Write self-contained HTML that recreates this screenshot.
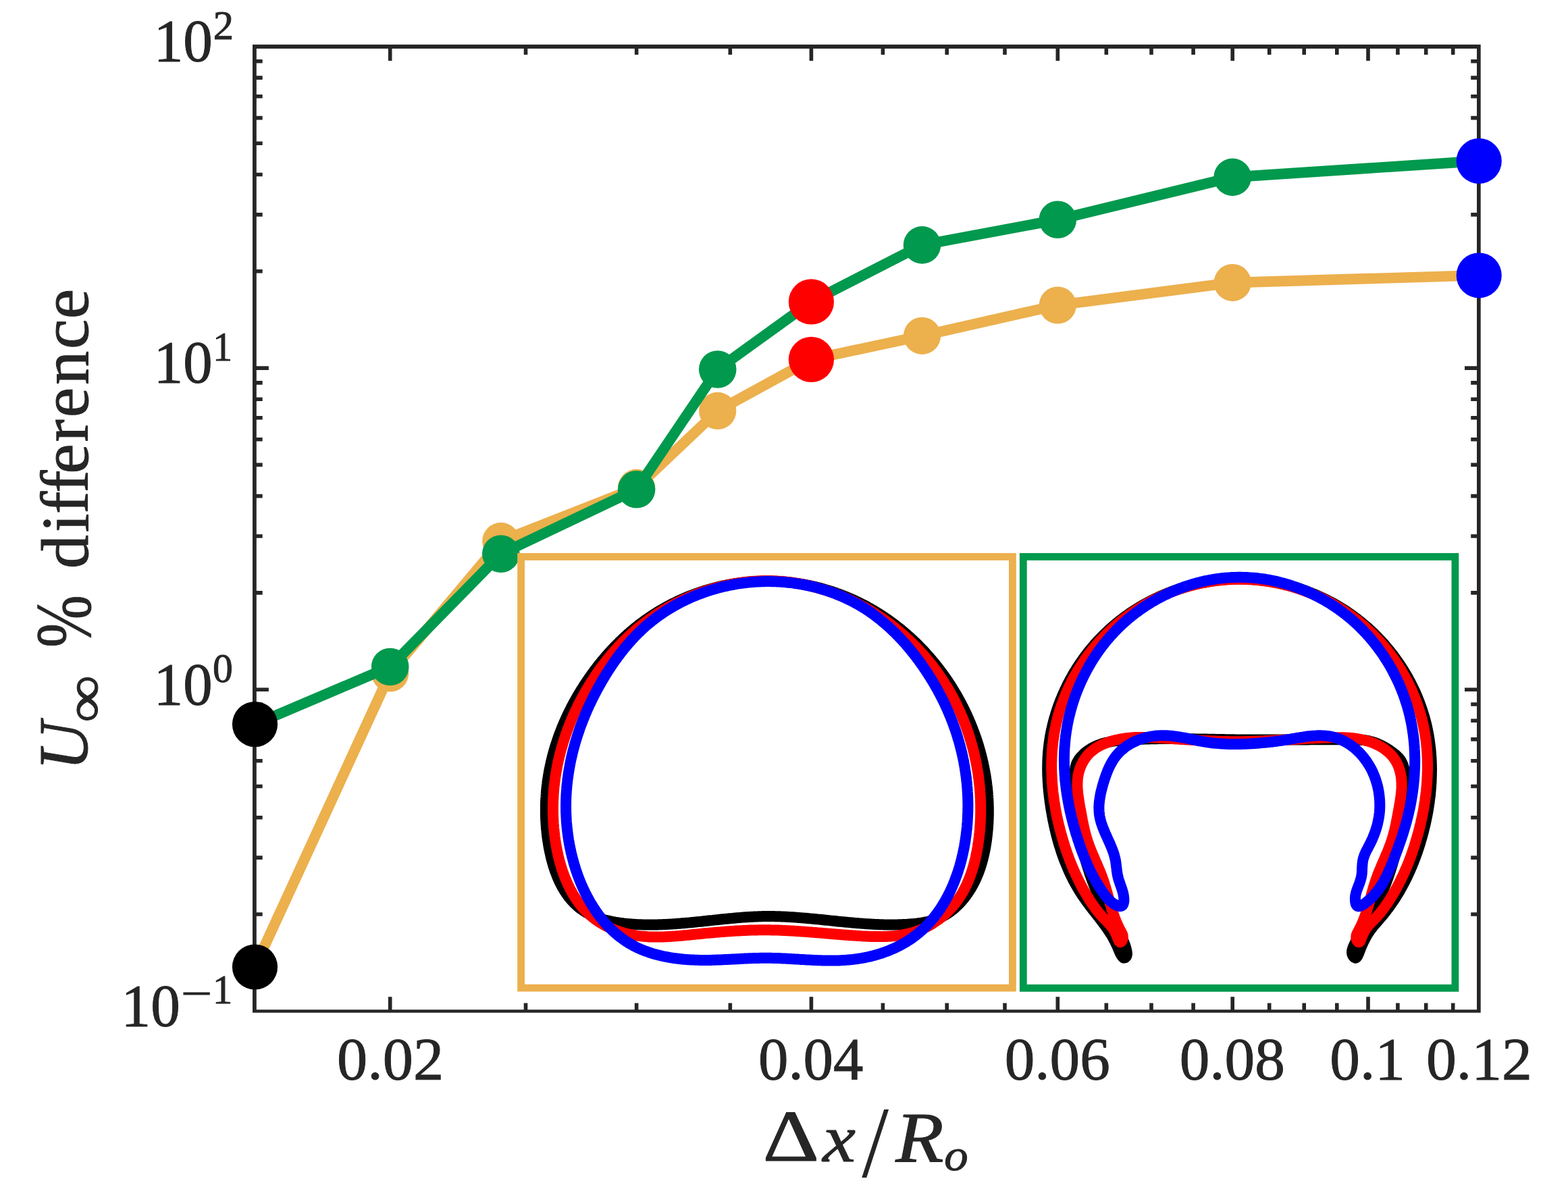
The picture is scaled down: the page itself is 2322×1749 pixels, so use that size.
<!DOCTYPE html><html><head><meta charset="utf-8"><title>U inf percent difference vs dx/Ro</title>
<style>html,body{margin:0;padding:0;background:#fff;}svg{display:block;}text{font-family:"Liberation Serif","DejaVu Serif",serif;fill:#262626;stroke:#262626;stroke-width:1px;}</style></head><body>
<svg width="2322" height="1749" viewBox="0 0 2322 1749">
<rect width="2322" height="1749" fill="#fff"/>
<path d="M577.7 1497.3V1476.3M577.7 69.1V90.1M1201.4 1497.3V1476.3M1201.4 69.1V90.1M1566.3 1497.3V1476.3M1566.3 69.1V90.1M1825.2 1497.3V1476.3M1825.2 69.1V90.1M2026 1497.3V1476.3M2026 69.1V90.1M778.5 1497.3V1485.5M778.5 69.1V80.9M942.6 1497.3V1485.5M942.6 69.1V80.9M1081.3 1497.3V1485.5M1081.3 69.1V80.9M1307.4 1497.3V1485.5M1307.4 69.1V80.9M1402.2 1497.3V1485.5M1402.2 69.1V80.9M1488 1497.3V1485.5M1488 69.1V80.9M1638.3 1497.3V1485.5M1638.3 69.1V80.9M1705 1497.3V1485.5M1705 69.1V80.9M1767.1 1497.3V1485.5M1767.1 69.1V80.9M1879.7 1497.3V1485.5M1879.7 69.1V80.9M1931.2 1497.3V1485.5M1931.2 69.1V80.9M1979.8 1497.3V1485.5M1979.8 69.1V80.9M2069.9 1497.3V1485.5M2069.9 69.1V80.9M2111.7 1497.3V1485.5M2111.7 69.1V80.9M2151.7 1497.3V1485.5M2151.7 69.1V80.9M376.9 1354H388.7M2190 1354H2178.2M376.9 1270.1H388.7M2190 1270.1H2178.2M376.9 1210.7H388.7M2190 1210.7H2178.2M376.9 1164.5H388.7M2190 1164.5H2178.2M376.9 1126.8H388.7M2190 1126.8H2178.2M376.9 1094.9H388.7M2190 1094.9H2178.2M376.9 1067.3H388.7M2190 1067.3H2178.2M376.9 1043H388.7M2190 1043H2178.2M376.9 1021.2H397.9M2190 1021.2H2169M376.9 877.9H388.7M2190 877.9H2178.2M376.9 794H388.7M2190 794H2178.2M376.9 734.6H388.7M2190 734.6H2178.2M376.9 688.4H388.7M2190 688.4H2178.2M376.9 650.7H388.7M2190 650.7H2178.2M376.9 618.8H388.7M2190 618.8H2178.2M376.9 591.2H388.7M2190 591.2H2178.2M376.9 566.9H388.7M2190 566.9H2178.2M376.9 545.1H397.9M2190 545.1H2169M376.9 401.8H388.7M2190 401.8H2178.2M376.9 317.9H388.7M2190 317.9H2178.2M376.9 258.5H388.7M2190 258.5H2178.2M376.9 212.3H388.7M2190 212.3H2178.2M376.9 174.6H388.7M2190 174.6H2178.2M376.9 142.7H388.7M2190 142.7H2178.2M376.9 115.1H388.7M2190 115.1H2178.2M376.9 90.8H388.7M2190 90.8H2178.2" stroke="#262626" stroke-width="5.6" fill="none"/>
<path d="M374 66.1H2192.7V71.9H374Z M374 1495.2H2192.7V1499.8H374Z M374 66.1H379.8V1499.8H374Z M2187 66.1H2192.7V1499.8H2187Z" fill="#262626"/>
<path d="M377.5 1432 L577.7 997 L741.8 801.4 L942.6 722.4 L1062.7 608.4 L1201.4 532.4 L1365.5 497.3 L1566.3 452 L1825.2 418.6 L2190 407.8" stroke="#ecb04d" stroke-width="15.6" fill="none" stroke-linejoin="round"/>
<circle cx="577.7" cy="997" r="27.6" fill="#ecb04d"/>
<circle cx="741.8" cy="801.4" r="27.6" fill="#ecb04d"/>
<circle cx="942.6" cy="722.4" r="27.6" fill="#ecb04d"/>
<circle cx="1062.7" cy="608.4" r="27.6" fill="#ecb04d"/>
<circle cx="1365.5" cy="497.3" r="27.6" fill="#ecb04d"/>
<circle cx="1566.3" cy="452" r="27.6" fill="#ecb04d"/>
<circle cx="1825.2" cy="418.6" r="27.6" fill="#ecb04d"/>
<path d="M377.5 1072.6 L577.7 987.5 L741.8 820.2 L942.6 724.8 L1062.7 547 L1201.4 446.9 L1365.5 362.9 L1566.3 325.3 L1825.2 262.4 L2190 238.4" stroke="#00994d" stroke-width="15.6" fill="none" stroke-linejoin="round"/>
<circle cx="577.7" cy="987.5" r="27.8" fill="#00994d"/>
<circle cx="741.8" cy="820.2" r="27.8" fill="#00994d"/>
<circle cx="942.6" cy="724.8" r="27.8" fill="#00994d"/>
<circle cx="1062.7" cy="547" r="27.8" fill="#00994d"/>
<circle cx="1365.5" cy="362.9" r="27.8" fill="#00994d"/>
<circle cx="1566.3" cy="325.3" r="27.8" fill="#00994d"/>
<circle cx="1825.2" cy="262.4" r="27.8" fill="#00994d"/>
<circle cx="377.5" cy="1072.6" r="33.6" fill="#000"/>
<circle cx="1201.4" cy="446.9" r="33.6" fill="#f00"/>
<circle cx="2190.2" cy="238.4" r="33.6" fill="#00f"/>
<circle cx="377.5" cy="1432" r="33.6" fill="#000"/>
<circle cx="1201.4" cy="532.4" r="33.6" fill="#f00"/>
<circle cx="2190.2" cy="407.8" r="33.6" fill="#00f"/>
<rect x="771.6" y="824.5" width="727.8" height="638.6" fill="#fff" stroke="#ecb04d" stroke-width="10.8"/>
<rect x="1515.3" y="824.5" width="639.6" height="638.8" fill="#fff" stroke="#00994d" stroke-width="10.8"/>
<path d="M1136.0 860.5 L1133.9 860.5 L1131.7 860.5 L1129.6 860.6 L1127.5 860.6 L1125.3 860.7 L1123.2 860.8 L1121.0 860.9 L1118.9 861.0 L1116.8 861.1 L1114.6 861.2 L1112.5 861.4 L1110.4 861.6 L1108.2 861.7 L1106.1 862.0 L1104.0 862.2 L1101.8 862.4 L1099.7 862.6 L1097.6 862.9 L1095.5 863.2 L1093.3 863.5 L1091.2 863.8 L1089.1 864.1 L1087.0 864.4 L1084.9 864.8 L1082.8 865.2 L1080.7 865.5 L1078.5 865.9 L1076.4 866.3 L1074.3 866.8 L1072.2 867.2 L1070.1 867.6 L1068.1 868.1 L1066.0 868.6 L1063.9 869.1 L1061.8 869.6 L1059.7 870.1 L1057.6 870.7 L1055.6 871.2 L1053.5 871.8 L1051.4 872.4 L1049.4 872.9 L1047.3 873.6 L1045.3 874.2 L1043.2 874.8 L1041.2 875.5 L1039.1 876.1 L1037.1 876.8 L1035.1 877.5 L1033.1 878.2 L1031.0 878.9 L1029.0 879.7 L1027.0 880.4 L1025.0 881.2 L1023.0 881.9 L1021.0 882.7 L1019.0 883.5 L1017.0 884.3 L1015.1 885.2 L1013.1 886.0 L1011.1 886.9 L1009.2 887.7 L1007.2 888.6 L1005.3 889.5 L1003.3 890.4 L1001.4 891.3 L999.5 892.3 L997.5 893.2 L995.6 894.2 L993.7 895.1 L991.8 896.1 L989.9 897.1 L988.0 898.1 L986.1 899.2 L984.3 900.2 L982.4 901.3 L980.5 902.3 L978.7 903.4 L976.8 904.5 L975.0 905.6 L973.2 906.7 L971.4 907.8 L969.5 909.0 L967.7 910.1 L965.9 911.3 L964.1 912.5 L962.4 913.7 L960.6 914.9 L958.8 916.1 L957.1 917.3 L955.3 918.6 L953.6 919.8 L951.9 921.1 L950.1 922.3 L948.4 923.6 L946.7 924.9 L945.0 926.2 L943.4 927.6 L941.7 928.9 L940.0 930.3 L938.4 931.6 L936.7 933.0 L935.1 934.4 L933.4 935.8 L931.8 937.2 L930.2 938.6 L928.6 940.0 L927.0 941.4 L925.4 942.9 L923.9 944.3 L922.3 945.8 L920.7 947.3 L919.2 948.8 L917.6 950.2 L916.1 951.8 L914.6 953.3 L913.1 954.8 L911.6 956.3 L910.1 957.9 L908.6 959.4 L907.1 961.0 L905.7 962.5 L904.2 964.1 L902.8 965.7 L901.3 967.3 L899.9 968.9 L898.5 970.5 L897.1 972.1 L895.7 973.8 L894.3 975.4 L892.9 977.0 L891.5 978.7 L890.2 980.4 L888.8 982.0 L887.5 983.7 L886.1 985.4 L884.8 987.1 L883.5 988.8 L882.2 990.5 L880.9 992.2 L879.6 993.9 L878.4 995.6 L877.1 997.4 L875.8 999.1 L874.6 1000.8 L873.3 1002.6 L872.1 1004.3 L870.9 1006.1 L869.7 1007.9 L868.5 1009.6 L867.3 1011.4 L866.1 1013.2 L865.0 1015.0 L863.8 1016.8 L862.7 1018.6 L861.5 1020.4 L860.4 1022.2 L859.3 1024.0 L858.2 1025.8 L857.1 1027.7 L856.0 1029.5 L854.9 1031.3 L853.9 1033.2 L852.8 1035.0 L851.8 1036.9 L850.7 1038.8 L849.7 1040.6 L848.7 1042.5 L847.7 1044.4 L846.7 1046.2 L845.7 1048.1 L844.8 1050.0 L843.8 1051.9 L842.9 1053.8 L841.9 1055.7 L841.0 1057.6 L840.1 1059.5 L839.2 1061.5 L838.3 1063.4 L837.5 1065.3 L836.6 1067.3 L835.7 1069.2 L834.9 1071.1 L834.1 1073.1 L833.2 1075.0 L832.4 1077.0 L831.6 1079.0 L830.9 1080.9 L830.1 1082.9 L829.3 1084.9 L828.6 1086.8 L827.9 1088.8 L827.1 1090.8 L826.4 1092.8 L825.7 1094.8 L825.0 1096.8 L824.4 1098.8 L823.7 1100.8 L823.1 1102.8 L822.4 1104.9 L821.8 1106.9 L821.2 1108.9 L820.6 1110.9 L820.0 1113.0 L819.4 1115.0 L818.9 1117.0 L818.3 1119.1 L817.8 1121.1 L817.3 1123.2 L816.8 1125.3 L816.3 1127.3 L815.8 1129.4 L815.4 1131.4 L814.9 1133.5 L814.5 1135.6 L814.0 1137.7 L813.6 1139.8 L813.2 1141.8 L812.8 1143.9 L812.5 1146.0 L812.1 1148.1 L811.8 1150.2 L811.5 1152.3 L811.1 1154.4 L810.8 1156.5 L810.5 1158.6 L810.3 1160.8 L810.0 1162.9 L809.8 1165.0 L809.5 1167.1 L809.3 1169.3 L809.1 1171.4 L808.9 1173.5 L808.8 1175.7 L808.6 1177.8 L808.5 1179.9 L808.3 1182.1 L808.2 1184.2 L808.1 1186.4 L808.0 1188.5 L808.0 1190.7 L807.9 1192.9 L807.9 1195.0 L807.9 1197.2 L807.9 1199.4 L807.9 1201.5 L807.9 1203.7 L807.9 1205.9 L808.0 1208.1 L808.0 1210.2 L808.1 1212.4 L808.2 1214.6 L808.3 1216.8 L808.5 1219.0 L808.6 1221.2 L808.8 1223.4 L808.9 1225.6 L809.1 1227.8 L809.4 1230.0 L809.6 1232.2 L809.8 1234.4 L810.1 1236.6 L810.3 1238.8 L810.6 1241.0 L810.9 1243.2 L811.3 1245.4 L811.6 1247.7 L812.0 1249.9 L812.3 1252.1 L812.7 1254.3 L813.1 1256.5 L813.6 1258.7 L814.0 1260.9 L814.5 1263.1 L815.0 1265.3 L815.5 1267.5 L816.0 1269.6 L816.5 1271.8 L817.1 1274.0 L817.7 1276.1 L818.3 1278.3 L818.9 1280.4 L819.5 1282.5 L820.2 1284.6 L820.9 1286.7 L821.6 1288.8 L822.3 1290.9 L823.1 1292.9 L823.9 1295.0 L824.7 1297.0 L825.5 1299.0 L826.3 1301.0 L827.2 1302.9 L828.1 1304.9 L829.0 1306.8 L830.0 1308.7 L830.9 1310.6 L831.9 1312.5 L832.9 1314.3 L834.0 1316.1 L835.0 1317.9 L836.1 1319.7 L837.3 1321.4 L838.4 1323.1 L839.6 1324.8 L840.8 1326.5 L842.0 1328.1 L843.3 1329.7 L844.5 1331.3 L845.8 1332.8 L847.2 1334.3 L848.6 1335.8 L850.0 1337.3 L851.4 1338.7 L852.8 1340.0 L854.3 1341.4 L855.8 1342.7 L857.4 1344.0 L858.9 1345.2 L860.6 1346.4 L862.2 1347.5 L863.9 1348.6 L865.5 1349.7 L867.3 1350.8 L869.0 1351.8 L870.8 1352.7 L872.6 1353.7 L874.4 1354.6 L876.3 1355.4 L878.2 1356.3 L880.1 1357.1 L882.0 1357.8 L883.9 1358.6 L885.9 1359.3 L887.9 1359.9 L889.9 1360.6 L891.9 1361.2 L893.9 1361.8 L896.0 1362.4 L898.0 1362.9 L900.1 1363.4 L902.2 1363.9 L904.3 1364.3 L906.4 1364.8 L908.6 1365.2 L910.7 1365.6 L912.8 1365.9 L915.0 1366.3 L917.2 1366.6 L919.3 1366.9 L921.5 1367.2 L923.7 1367.5 L925.9 1367.7 L928.1 1367.9 L930.2 1368.1 L932.4 1368.3 L934.6 1368.5 L936.8 1368.7 L939.0 1368.8 L941.2 1368.9 L943.4 1369.1 L945.6 1369.2 L947.8 1369.2 L949.9 1369.3 L952.1 1369.4 L954.3 1369.4 L956.5 1369.5 L958.7 1369.5 L960.8 1369.5 L963.0 1369.5 L965.2 1369.5 L967.3 1369.5 L969.5 1369.5 L971.7 1369.4 L973.8 1369.4 L976.0 1369.3 L978.2 1369.3 L980.3 1369.2 L982.5 1369.1 L984.6 1369.0 L986.8 1368.9 L988.9 1368.8 L991.1 1368.7 L993.2 1368.6 L995.4 1368.4 L997.5 1368.3 L999.7 1368.2 L1001.8 1368.0 L1004.0 1367.8 L1006.1 1367.7 L1008.3 1367.5 L1010.4 1367.3 L1012.5 1367.2 L1014.7 1367.0 L1016.8 1366.8 L1018.9 1366.6 L1021.1 1366.4 L1023.2 1366.2 L1025.4 1366.0 L1027.5 1365.8 L1029.6 1365.6 L1031.8 1365.3 L1033.9 1365.1 L1036.0 1364.9 L1038.1 1364.7 L1040.3 1364.5 L1042.4 1364.2 L1044.5 1364.0 L1046.7 1363.8 L1048.8 1363.5 L1050.9 1363.3 L1053.0 1363.1 L1055.2 1362.9 L1057.3 1362.6 L1059.4 1362.4 L1061.5 1362.2 L1063.7 1362.0 L1065.8 1361.7 L1067.9 1361.5 L1070.0 1361.3 L1072.1 1361.1 L1074.3 1360.9 L1076.4 1360.7 L1078.5 1360.5 L1080.6 1360.3 L1082.8 1360.1 L1084.9 1359.9 L1087.0 1359.7 L1089.1 1359.5 L1091.2 1359.3 L1093.4 1359.1 L1095.5 1358.9 L1097.6 1358.8 L1099.7 1358.6 L1101.8 1358.5 L1104.0 1358.3 L1106.1 1358.2 L1108.2 1358.0 L1110.3 1357.9 L1112.4 1357.8 L1114.6 1357.7 L1116.7 1357.6 L1118.8 1357.5 L1120.9 1357.4 L1123.1 1357.3 L1125.2 1357.3 L1127.3 1357.2 L1129.4 1357.1 L1131.6 1357.1 L1133.7 1357.1 L1135.8 1357.1 L1137.9 1357.1 L1140.1 1357.1 L1142.2 1357.1 L1144.3 1357.1 L1146.5 1357.1 L1148.6 1357.2 L1150.7 1357.2 L1152.9 1357.3 L1155.0 1357.3 L1157.1 1357.4 L1159.2 1357.5 L1161.4 1357.6 L1163.5 1357.7 L1165.7 1357.8 L1167.8 1357.9 L1169.9 1358.1 L1172.1 1358.2 L1174.2 1358.3 L1176.3 1358.5 L1178.5 1358.6 L1180.6 1358.8 L1182.7 1358.9 L1184.9 1359.1 L1187.0 1359.3 L1189.2 1359.4 L1191.3 1359.6 L1193.4 1359.8 L1195.6 1360.0 L1197.7 1360.2 L1199.9 1360.4 L1202.0 1360.6 L1204.1 1360.8 L1206.3 1361.0 L1208.4 1361.2 L1210.6 1361.4 L1212.7 1361.6 L1214.9 1361.8 L1217.0 1362.0 L1219.1 1362.3 L1221.3 1362.5 L1223.4 1362.7 L1225.6 1362.9 L1227.7 1363.1 L1229.9 1363.4 L1232.0 1363.6 L1234.2 1363.8 L1236.3 1364.0 L1238.4 1364.2 L1240.6 1364.5 L1242.7 1364.7 L1244.9 1364.9 L1247.0 1365.1 L1249.2 1365.3 L1251.3 1365.5 L1253.5 1365.7 L1255.6 1365.9 L1257.8 1366.1 L1259.9 1366.3 L1262.0 1366.5 L1264.2 1366.7 L1266.3 1366.9 L1268.5 1367.1 L1270.6 1367.2 L1272.8 1367.4 L1274.9 1367.6 L1277.1 1367.7 L1279.2 1367.9 L1281.4 1368.1 L1283.5 1368.2 L1285.7 1368.3 L1287.8 1368.5 L1289.9 1368.6 L1292.1 1368.7 L1294.2 1368.8 L1296.4 1368.9 L1298.5 1369.0 L1300.7 1369.1 L1302.8 1369.2 L1305.0 1369.2 L1307.1 1369.3 L1309.3 1369.4 L1311.4 1369.4 L1313.6 1369.4 L1315.7 1369.5 L1317.8 1369.5 L1320.0 1369.5 L1322.1 1369.5 L1324.3 1369.5 L1326.4 1369.4 L1328.6 1369.4 L1330.7 1369.3 L1332.8 1369.3 L1335.0 1369.2 L1337.1 1369.1 L1339.3 1369.0 L1341.4 1368.9 L1343.6 1368.8 L1345.7 1368.6 L1347.8 1368.5 L1350.0 1368.3 L1352.1 1368.1 L1354.3 1367.9 L1356.4 1367.7 L1358.5 1367.5 L1360.6 1367.2 L1362.7 1366.9 L1364.8 1366.6 L1366.9 1366.2 L1369.0 1365.9 L1371.1 1365.4 L1373.2 1365.0 L1375.2 1364.5 L1377.3 1364.0 L1379.3 1363.5 L1381.3 1362.9 L1383.3 1362.3 L1385.3 1361.6 L1387.3 1360.9 L1389.2 1360.1 L1391.2 1359.3 L1393.1 1358.5 L1395.0 1357.6 L1396.9 1356.6 L1398.7 1355.6 L1400.6 1354.6 L1402.4 1353.4 L1404.2 1352.3 L1406.0 1351.1 L1407.7 1349.8 L1409.4 1348.5 L1411.1 1347.2 L1412.8 1345.8 L1414.4 1344.3 L1416.0 1342.9 L1417.6 1341.4 L1419.2 1339.8 L1420.7 1338.3 L1422.2 1336.7 L1423.7 1335.1 L1425.1 1333.4 L1426.5 1331.8 L1427.9 1330.1 L1429.2 1328.4 L1430.5 1326.7 L1431.8 1324.9 L1433.0 1323.2 L1434.2 1321.4 L1435.4 1319.6 L1436.5 1317.8 L1437.7 1316.0 L1438.7 1314.2 L1439.8 1312.3 L1440.8 1310.4 L1441.8 1308.6 L1442.8 1306.7 L1443.7 1304.7 L1444.7 1302.8 L1445.5 1300.9 L1446.4 1298.9 L1447.2 1297.0 L1448.1 1295.0 L1448.8 1293.0 L1449.6 1291.0 L1450.3 1289.0 L1451.0 1287.0 L1451.7 1285.0 L1452.4 1282.9 L1453.0 1280.9 L1453.7 1278.8 L1454.3 1276.8 L1454.8 1274.7 L1455.4 1272.6 L1455.9 1270.5 L1456.4 1268.5 L1456.9 1266.4 L1457.4 1264.3 L1457.8 1262.2 L1458.3 1260.0 L1458.7 1257.9 L1459.1 1255.8 L1459.5 1253.7 L1459.8 1251.5 L1460.2 1249.4 L1460.5 1247.3 L1460.8 1245.1 L1461.1 1243.0 L1461.4 1240.9 L1461.6 1238.7 L1461.9 1236.6 L1462.1 1234.5 L1462.3 1232.3 L1462.5 1230.2 L1462.7 1228.0 L1462.9 1225.9 L1463.0 1223.7 L1463.2 1221.6 L1463.3 1219.5 L1463.4 1217.3 L1463.5 1215.2 L1463.6 1213.0 L1463.7 1210.9 L1463.7 1208.7 L1463.8 1206.6 L1463.8 1204.4 L1463.8 1202.3 L1463.8 1200.2 L1463.8 1198.0 L1463.8 1195.9 L1463.7 1193.7 L1463.6 1191.6 L1463.6 1189.5 L1463.5 1187.3 L1463.4 1185.2 L1463.3 1183.1 L1463.1 1180.9 L1463.0 1178.8 L1462.8 1176.7 L1462.7 1174.5 L1462.5 1172.4 L1462.3 1170.3 L1462.1 1168.1 L1461.8 1166.0 L1461.6 1163.9 L1461.3 1161.8 L1461.1 1159.6 L1460.8 1157.5 L1460.5 1155.4 L1460.2 1153.3 L1459.9 1151.2 L1459.5 1149.1 L1459.2 1147.0 L1458.8 1144.9 L1458.4 1142.8 L1458.0 1140.7 L1457.6 1138.6 L1457.2 1136.5 L1456.8 1134.4 L1456.3 1132.3 L1455.9 1130.2 L1455.4 1128.1 L1454.9 1126.0 L1454.4 1123.9 L1453.9 1121.9 L1453.4 1119.8 L1452.9 1117.7 L1452.3 1115.7 L1451.8 1113.6 L1451.2 1111.5 L1450.6 1109.5 L1450.0 1107.4 L1449.4 1105.4 L1448.8 1103.3 L1448.2 1101.3 L1447.5 1099.2 L1446.9 1097.2 L1446.2 1095.2 L1445.5 1093.1 L1444.8 1091.1 L1444.1 1089.1 L1443.4 1087.1 L1442.6 1085.1 L1441.9 1083.1 L1441.1 1081.1 L1440.4 1079.1 L1439.6 1077.1 L1438.8 1075.1 L1438.0 1073.1 L1437.2 1071.1 L1436.4 1069.2 L1435.5 1067.2 L1434.7 1065.2 L1433.8 1063.3 L1432.9 1061.3 L1432.0 1059.4 L1431.1 1057.4 L1430.2 1055.5 L1429.3 1053.6 L1428.4 1051.6 L1427.4 1049.7 L1426.5 1047.8 L1425.5 1045.9 L1424.5 1044.0 L1423.5 1042.1 L1422.5 1040.2 L1421.5 1038.3 L1420.5 1036.4 L1419.4 1034.5 L1418.4 1032.7 L1417.3 1030.8 L1416.3 1029.0 L1415.2 1027.1 L1414.1 1025.3 L1413.0 1023.4 L1411.9 1021.6 L1410.8 1019.8 L1409.6 1018.0 L1408.5 1016.1 L1407.3 1014.3 L1406.2 1012.5 L1405.0 1010.8 L1403.8 1009.0 L1402.6 1007.2 L1401.4 1005.4 L1400.2 1003.7 L1398.9 1001.9 L1397.7 1000.2 L1396.4 998.4 L1395.2 996.7 L1393.9 995.0 L1392.6 993.3 L1391.3 991.5 L1390.0 989.8 L1388.7 988.1 L1387.4 986.5 L1386.1 984.8 L1384.7 983.1 L1383.4 981.5 L1382.0 979.8 L1380.6 978.2 L1379.3 976.5 L1377.9 974.9 L1376.5 973.3 L1375.1 971.7 L1373.6 970.1 L1372.2 968.5 L1370.8 966.9 L1369.3 965.3 L1367.9 963.7 L1366.4 962.2 L1364.9 960.6 L1363.4 959.1 L1361.9 957.6 L1360.4 956.0 L1358.9 954.5 L1357.4 953.0 L1355.9 951.5 L1354.3 950.1 L1352.8 948.6 L1351.2 947.1 L1349.6 945.7 L1348.1 944.2 L1346.5 942.8 L1344.9 941.4 L1343.3 940.0 L1341.7 938.6 L1340.0 937.2 L1338.4 935.8 L1336.8 934.4 L1335.1 933.0 L1333.5 931.7 L1331.8 930.4 L1330.1 929.0 L1328.4 927.7 L1326.8 926.4 L1325.1 925.1 L1323.4 923.8 L1321.6 922.5 L1319.9 921.3 L1318.2 920.0 L1316.5 918.8 L1314.7 917.5 L1313.0 916.3 L1311.2 915.1 L1309.4 913.9 L1307.6 912.7 L1305.9 911.6 L1304.1 910.4 L1302.3 909.3 L1300.5 908.1 L1298.6 907.0 L1296.8 905.9 L1295.0 904.8 L1293.2 903.7 L1291.3 902.6 L1289.5 901.6 L1287.6 900.5 L1285.7 899.5 L1283.9 898.4 L1282.0 897.4 L1280.1 896.4 L1278.2 895.4 L1276.3 894.5 L1274.4 893.5 L1272.5 892.6 L1270.5 891.6 L1268.6 890.7 L1266.7 889.8 L1264.7 888.9 L1262.8 888.0 L1260.8 887.1 L1258.9 886.3 L1256.9 885.4 L1254.9 884.6 L1252.9 883.8 L1251.0 883.0 L1249.0 882.2 L1247.0 881.4 L1245.0 880.7 L1243.0 879.9 L1241.0 879.2 L1238.9 878.5 L1236.9 877.7 L1234.9 877.1 L1232.9 876.4 L1230.8 875.7 L1228.8 875.1 L1226.7 874.4 L1224.7 873.8 L1222.6 873.2 L1220.6 872.6 L1218.5 872.0 L1216.5 871.4 L1214.4 870.9 L1212.3 870.3 L1210.2 869.8 L1208.2 869.3 L1206.1 868.8 L1204.0 868.3 L1201.9 867.8 L1199.8 867.4 L1197.7 866.9 L1195.6 866.5 L1193.5 866.1 L1191.4 865.7 L1189.3 865.3 L1187.2 864.9 L1185.1 864.6 L1182.9 864.2 L1180.8 863.9 L1178.7 863.6 L1176.6 863.3 L1174.5 863.0 L1172.3 862.7 L1170.2 862.5 L1168.1 862.3 L1166.0 862.0 L1163.8 861.8 L1161.7 861.6 L1159.6 861.5 L1157.4 861.3 L1155.3 861.1 L1153.1 861.0 L1151.0 860.9 L1148.9 860.8 L1146.7 860.7 L1144.6 860.6 L1142.4 860.6 L1140.3 860.5 L1138.2 860.5Z" stroke="#000" stroke-width="16.0" fill="none" stroke-linejoin="round" stroke-linecap="round"/>
<path d="M1136.6 860.2 L1134.5 860.2 L1132.3 860.2 L1130.2 860.2 L1128.1 860.3 L1126.0 860.4 L1123.9 860.4 L1121.8 860.5 L1119.6 860.7 L1117.5 860.8 L1115.4 860.9 L1113.3 861.1 L1111.2 861.3 L1109.1 861.5 L1106.9 861.7 L1104.8 861.9 L1102.7 862.2 L1100.6 862.4 L1098.5 862.7 L1096.4 863.0 L1094.3 863.3 L1092.2 863.6 L1090.1 864.0 L1088.0 864.3 L1085.8 864.7 L1083.7 865.1 L1081.6 865.5 L1079.6 865.9 L1077.5 866.3 L1075.4 866.8 L1073.3 867.2 L1071.2 867.7 L1069.1 868.2 L1067.0 868.7 L1064.9 869.2 L1062.9 869.7 L1060.8 870.3 L1058.7 870.9 L1056.7 871.4 L1054.6 872.0 L1052.6 872.6 L1050.5 873.3 L1048.4 873.9 L1046.4 874.5 L1044.4 875.2 L1042.3 875.9 L1040.3 876.6 L1038.3 877.3 L1036.2 878.0 L1034.2 878.7 L1032.2 879.5 L1030.2 880.3 L1028.2 881.0 L1026.2 881.8 L1024.2 882.6 L1022.2 883.4 L1020.3 884.3 L1018.3 885.1 L1016.3 886.0 L1014.4 886.9 L1012.4 887.7 L1010.5 888.6 L1008.5 889.6 L1006.6 890.5 L1004.7 891.4 L1002.7 892.4 L1000.8 893.3 L998.9 894.3 L997.0 895.3 L995.1 896.3 L993.2 897.3 L991.4 898.4 L989.5 899.4 L987.6 900.4 L985.8 901.5 L983.9 902.6 L982.1 903.7 L980.3 904.8 L978.5 905.9 L976.6 907.0 L974.8 908.2 L973.0 909.3 L971.3 910.5 L969.5 911.7 L967.7 912.9 L966.0 914.1 L964.2 915.3 L962.5 916.5 L960.8 917.7 L959.0 919.0 L957.3 920.2 L955.6 921.5 L954.0 922.8 L952.3 924.1 L950.6 925.4 L949.0 926.7 L947.3 928.0 L945.7 929.4 L944.0 930.7 L942.4 932.1 L940.8 933.5 L939.2 934.9 L937.6 936.2 L936.1 937.6 L934.5 939.1 L933.0 940.5 L931.4 941.9 L929.9 943.4 L928.4 944.8 L926.8 946.3 L925.3 947.8 L923.8 949.2 L922.4 950.7 L920.9 952.2 L919.4 953.8 L918.0 955.3 L916.5 956.8 L915.1 958.4 L913.7 959.9 L912.2 961.5 L910.8 963.0 L909.4 964.6 L908.1 966.2 L906.7 967.8 L905.3 969.4 L904.0 971.0 L902.6 972.6 L901.3 974.2 L900.0 975.9 L898.6 977.5 L897.3 979.2 L896.0 980.8 L894.8 982.5 L893.5 984.2 L892.2 985.9 L891.0 987.5 L889.7 989.2 L888.5 991.0 L887.2 992.7 L886.0 994.4 L884.8 996.1 L883.6 997.8 L882.4 999.6 L881.2 1001.3 L880.1 1003.1 L878.9 1004.8 L877.8 1006.6 L876.6 1008.4 L875.5 1010.2 L874.4 1011.9 L873.2 1013.7 L872.1 1015.5 L871.0 1017.3 L870.0 1019.1 L868.9 1020.9 L867.8 1022.8 L866.8 1024.6 L865.7 1026.4 L864.7 1028.3 L863.7 1030.1 L862.7 1032.0 L861.6 1033.8 L860.7 1035.7 L859.7 1037.5 L858.7 1039.4 L857.7 1041.3 L856.8 1043.2 L855.8 1045.0 L854.9 1046.9 L854.0 1048.8 L853.1 1050.7 L852.2 1052.6 L851.3 1054.6 L850.4 1056.5 L849.6 1058.4 L848.7 1060.3 L847.9 1062.3 L847.0 1064.2 L846.2 1066.1 L845.4 1068.1 L844.6 1070.0 L843.8 1072.0 L843.0 1074.0 L842.3 1075.9 L841.5 1077.9 L840.8 1079.9 L840.0 1081.8 L839.3 1083.8 L838.6 1085.8 L837.9 1087.8 L837.2 1089.8 L836.5 1091.8 L835.9 1093.8 L835.2 1095.8 L834.6 1097.8 L834.0 1099.8 L833.4 1101.8 L832.8 1103.9 L832.2 1105.9 L831.6 1107.9 L831.0 1109.9 L830.5 1112.0 L829.9 1114.0 L829.4 1116.1 L828.9 1118.1 L828.4 1120.2 L827.9 1122.2 L827.4 1124.3 L826.9 1126.3 L826.5 1128.4 L826.0 1130.5 L825.6 1132.5 L825.2 1134.6 L824.8 1136.7 L824.4 1138.8 L824.0 1140.8 L823.7 1142.9 L823.3 1145.0 L823.0 1147.1 L822.6 1149.2 L822.3 1151.3 L822.0 1153.4 L821.8 1155.5 L821.5 1157.6 L821.2 1159.7 L821.0 1161.8 L820.7 1163.9 L820.5 1166.0 L820.3 1168.1 L820.1 1170.3 L820.0 1172.4 L819.8 1174.5 L819.6 1176.6 L819.5 1178.7 L819.4 1180.9 L819.3 1183.0 L819.2 1185.1 L819.1 1187.3 L819.0 1189.4 L819.0 1191.5 L819.0 1193.7 L818.9 1195.8 L818.9 1197.9 L818.9 1200.1 L818.9 1202.2 L819.0 1204.4 L819.0 1206.5 L819.1 1208.7 L819.2 1210.8 L819.3 1213.0 L819.4 1215.1 L819.5 1217.3 L819.6 1219.4 L819.8 1221.6 L820.0 1223.7 L820.1 1225.9 L820.3 1228.0 L820.5 1230.2 L820.8 1232.4 L821.0 1234.5 L821.3 1236.7 L821.5 1238.8 L821.8 1241.0 L822.1 1243.2 L822.5 1245.3 L822.8 1247.5 L823.1 1249.6 L823.5 1251.8 L823.9 1253.9 L824.3 1256.1 L824.7 1258.2 L825.1 1260.4 L825.6 1262.5 L826.0 1264.7 L826.5 1266.8 L827.0 1268.9 L827.6 1271.1 L828.1 1273.2 L828.6 1275.3 L829.2 1277.4 L829.8 1279.5 L830.4 1281.6 L831.0 1283.6 L831.7 1285.7 L832.3 1287.8 L833.0 1289.8 L833.7 1291.9 L834.5 1293.9 L835.2 1295.9 L836.0 1297.9 L836.7 1299.9 L837.5 1301.9 L838.4 1303.9 L839.2 1305.8 L840.1 1307.8 L840.9 1309.7 L841.9 1311.6 L842.8 1313.5 L843.7 1315.4 L844.7 1317.3 L845.7 1319.1 L846.7 1321.0 L847.7 1322.8 L848.8 1324.6 L849.8 1326.3 L850.9 1328.1 L852.1 1329.8 L853.2 1331.6 L854.4 1333.3 L855.6 1335.0 L856.8 1336.6 L858.0 1338.3 L859.3 1339.9 L860.5 1341.5 L861.9 1343.0 L863.2 1344.6 L864.5 1346.1 L865.9 1347.6 L867.3 1349.1 L868.7 1350.5 L870.2 1351.9 L871.7 1353.3 L873.2 1354.7 L874.7 1356.1 L876.3 1357.4 L877.8 1358.7 L879.4 1359.9 L881.1 1361.2 L882.7 1362.4 L884.4 1363.5 L886.1 1364.7 L887.8 1365.8 L889.6 1366.9 L891.3 1367.9 L893.1 1369.0 L894.9 1370.0 L896.7 1371.0 L898.6 1371.9 L900.5 1372.8 L902.3 1373.7 L904.2 1374.6 L906.2 1375.4 L908.1 1376.2 L910.0 1377.0 L912.0 1377.7 L914.0 1378.5 L915.9 1379.1 L917.9 1379.8 L919.9 1380.4 L922.0 1381.0 L924.0 1381.6 L926.0 1382.2 L928.1 1382.7 L930.1 1383.2 L932.2 1383.7 L934.3 1384.1 L936.4 1384.5 L938.4 1384.9 L940.5 1385.2 L942.6 1385.6 L944.7 1385.9 L946.8 1386.1 L948.9 1386.4 L951.0 1386.6 L953.1 1386.8 L955.3 1387.0 L957.4 1387.1 L959.5 1387.3 L961.6 1387.4 L963.8 1387.5 L965.9 1387.5 L968.0 1387.6 L970.2 1387.6 L972.3 1387.6 L974.5 1387.6 L976.6 1387.6 L978.8 1387.5 L980.9 1387.5 L983.1 1387.4 L985.2 1387.3 L987.4 1387.2 L989.5 1387.1 L991.7 1387.0 L993.8 1386.9 L996.0 1386.7 L998.1 1386.6 L1000.3 1386.4 L1002.5 1386.2 L1004.6 1386.1 L1006.8 1385.9 L1008.9 1385.7 L1011.1 1385.5 L1013.2 1385.3 L1015.4 1385.1 L1017.6 1384.9 L1019.7 1384.7 L1021.9 1384.5 L1024.0 1384.2 L1026.2 1384.0 L1028.3 1383.8 L1030.5 1383.6 L1032.6 1383.4 L1034.7 1383.2 L1036.9 1383.0 L1039.0 1382.8 L1041.2 1382.5 L1043.3 1382.3 L1045.4 1382.1 L1047.6 1381.9 L1049.7 1381.7 L1051.8 1381.5 L1053.9 1381.4 L1056.1 1381.2 L1058.2 1381.0 L1060.3 1380.8 L1062.4 1380.6 L1064.5 1380.4 L1066.7 1380.3 L1068.8 1380.1 L1070.9 1379.9 L1073.0 1379.8 L1075.1 1379.6 L1077.2 1379.5 L1079.3 1379.3 L1081.4 1379.2 L1083.5 1379.0 L1085.6 1378.9 L1087.8 1378.7 L1089.9 1378.6 L1092.0 1378.5 L1094.1 1378.4 L1096.2 1378.3 L1098.3 1378.2 L1100.4 1378.1 L1102.5 1378.0 L1104.6 1377.9 L1106.7 1377.8 L1108.8 1377.7 L1110.9 1377.6 L1113.0 1377.6 L1115.1 1377.5 L1117.1 1377.4 L1119.2 1377.4 L1121.3 1377.4 L1123.4 1377.3 L1125.5 1377.3 L1127.6 1377.3 L1129.7 1377.3 L1131.8 1377.3 L1133.9 1377.3 L1136.0 1377.3 L1138.1 1377.3 L1140.2 1377.3 L1142.3 1377.4 L1144.4 1377.4 L1146.5 1377.4 L1148.6 1377.5 L1150.7 1377.6 L1152.8 1377.6 L1154.9 1377.7 L1157.0 1377.8 L1159.1 1377.9 L1161.2 1378.0 L1163.3 1378.1 L1165.4 1378.2 L1167.5 1378.3 L1169.6 1378.4 L1171.7 1378.5 L1173.8 1378.6 L1175.9 1378.7 L1178.0 1378.9 L1180.1 1379.0 L1182.2 1379.2 L1184.3 1379.3 L1186.4 1379.4 L1188.5 1379.6 L1190.6 1379.7 L1192.7 1379.9 L1194.8 1380.1 L1197.0 1380.2 L1199.1 1380.4 L1201.2 1380.5 L1203.3 1380.7 L1205.4 1380.9 L1207.5 1381.0 L1209.6 1381.2 L1211.8 1381.4 L1213.9 1381.6 L1216.0 1381.7 L1218.1 1381.9 L1220.2 1382.1 L1222.4 1382.3 L1224.5 1382.5 L1226.6 1382.6 L1228.7 1382.8 L1230.9 1383.0 L1233.0 1383.2 L1235.1 1383.3 L1237.3 1383.5 L1239.4 1383.7 L1241.5 1383.8 L1243.7 1384.0 L1245.8 1384.2 L1247.9 1384.4 L1250.1 1384.5 L1252.2 1384.7 L1254.4 1384.8 L1256.5 1385.0 L1258.7 1385.2 L1260.8 1385.3 L1263.0 1385.4 L1265.1 1385.6 L1267.3 1385.7 L1269.4 1385.9 L1271.6 1386.0 L1273.7 1386.1 L1275.9 1386.3 L1278.1 1386.4 L1280.2 1386.5 L1282.4 1386.6 L1284.5 1386.7 L1286.7 1386.8 L1288.9 1386.9 L1291.0 1386.9 L1293.2 1387.0 L1295.4 1387.0 L1297.5 1387.1 L1299.7 1387.1 L1301.8 1387.1 L1304.0 1387.1 L1306.1 1387.1 L1308.3 1387.0 L1310.4 1386.9 L1312.6 1386.9 L1314.7 1386.8 L1316.8 1386.7 L1318.9 1386.5 L1321.1 1386.4 L1323.2 1386.2 L1325.3 1386.0 L1327.4 1385.7 L1329.5 1385.5 L1331.6 1385.2 L1333.6 1384.9 L1335.7 1384.6 L1337.8 1384.2 L1339.8 1383.8 L1341.9 1383.4 L1343.9 1383.0 L1345.9 1382.5 L1347.9 1382.0 L1350.0 1381.4 L1352.0 1380.9 L1353.9 1380.2 L1355.9 1379.6 L1357.9 1378.9 L1359.8 1378.2 L1361.8 1377.5 L1363.7 1376.7 L1365.6 1375.8 L1367.5 1375.0 L1369.4 1374.1 L1371.3 1373.2 L1373.1 1372.2 L1375.0 1371.3 L1376.8 1370.2 L1378.6 1369.2 L1380.4 1368.1 L1382.2 1367.0 L1383.9 1365.9 L1385.7 1364.7 L1387.4 1363.5 L1389.1 1362.3 L1390.8 1361.1 L1392.4 1359.8 L1394.1 1358.5 L1395.7 1357.2 L1397.3 1355.8 L1398.8 1354.4 L1400.4 1353.0 L1401.9 1351.6 L1403.4 1350.2 L1404.9 1348.7 L1406.4 1347.2 L1407.8 1345.7 L1409.2 1344.1 L1410.6 1342.6 L1411.9 1341.0 L1413.3 1339.4 L1414.6 1337.8 L1415.8 1336.1 L1417.1 1334.4 L1418.3 1332.8 L1419.5 1331.1 L1420.7 1329.3 L1421.8 1327.6 L1422.9 1325.8 L1424.0 1324.1 L1425.1 1322.3 L1426.1 1320.5 L1427.1 1318.7 L1428.1 1316.8 L1429.0 1315.0 L1430.0 1313.1 L1430.9 1311.2 L1431.8 1309.3 L1432.6 1307.4 L1433.5 1305.5 L1434.3 1303.5 L1435.1 1301.6 L1435.8 1299.6 L1436.6 1297.7 L1437.3 1295.7 L1438.0 1293.7 L1438.7 1291.7 L1439.4 1289.7 L1440.0 1287.6 L1440.6 1285.6 L1441.2 1283.6 L1441.8 1281.5 L1442.4 1279.4 L1442.9 1277.4 L1443.5 1275.3 L1444.0 1273.2 L1444.5 1271.1 L1444.9 1269.0 L1445.4 1266.9 L1445.8 1264.8 L1446.2 1262.7 L1446.7 1260.6 L1447.0 1258.5 L1447.4 1256.4 L1447.8 1254.2 L1448.1 1252.1 L1448.4 1250.0 L1448.8 1247.8 L1449.1 1245.7 L1449.3 1243.5 L1449.6 1241.4 L1449.9 1239.3 L1450.1 1237.1 L1450.3 1235.0 L1450.6 1232.8 L1450.8 1230.7 L1451.0 1228.5 L1451.1 1226.4 L1451.3 1224.2 L1451.5 1222.1 L1451.6 1220.0 L1451.7 1217.8 L1451.8 1215.7 L1451.9 1213.5 L1452.0 1211.4 L1452.1 1209.2 L1452.1 1207.1 L1452.2 1204.9 L1452.2 1202.8 L1452.2 1200.6 L1452.2 1198.5 L1452.2 1196.4 L1452.2 1194.2 L1452.2 1192.1 L1452.1 1189.9 L1452.1 1187.8 L1452.0 1185.7 L1451.9 1183.5 L1451.8 1181.4 L1451.7 1179.3 L1451.6 1177.1 L1451.5 1175.0 L1451.3 1172.9 L1451.2 1170.7 L1451.0 1168.6 L1450.8 1166.5 L1450.6 1164.3 L1450.4 1162.2 L1450.2 1160.1 L1449.9 1158.0 L1449.7 1155.9 L1449.4 1153.8 L1449.2 1151.6 L1448.9 1149.5 L1448.6 1147.4 L1448.3 1145.3 L1447.9 1143.2 L1447.6 1141.1 L1447.2 1139.0 L1446.9 1136.9 L1446.5 1134.8 L1446.1 1132.7 L1445.7 1130.6 L1445.3 1128.6 L1444.9 1126.5 L1444.4 1124.4 L1444.0 1122.3 L1443.5 1120.3 L1443.1 1118.2 L1442.6 1116.1 L1442.1 1114.1 L1441.6 1112.0 L1441.0 1109.9 L1440.5 1107.9 L1440.0 1105.8 L1439.4 1103.8 L1438.8 1101.7 L1438.2 1099.7 L1437.6 1097.7 L1437.0 1095.6 L1436.4 1093.6 L1435.8 1091.6 L1435.1 1089.6 L1434.5 1087.6 L1433.8 1085.6 L1433.1 1083.6 L1432.4 1081.6 L1431.7 1079.6 L1431.0 1077.6 L1430.3 1075.6 L1429.6 1073.6 L1428.8 1071.6 L1428.0 1069.7 L1427.3 1067.7 L1426.5 1065.7 L1425.7 1063.8 L1424.9 1061.8 L1424.0 1059.9 L1423.2 1057.9 L1422.4 1056.0 L1421.5 1054.1 L1420.6 1052.1 L1419.7 1050.2 L1418.8 1048.3 L1417.9 1046.4 L1417.0 1044.5 L1416.1 1042.6 L1415.2 1040.7 L1414.2 1038.8 L1413.2 1036.9 L1412.3 1035.1 L1411.3 1033.2 L1410.3 1031.3 L1409.3 1029.5 L1408.2 1027.6 L1407.2 1025.8 L1406.2 1024.0 L1405.1 1022.1 L1404.0 1020.3 L1403.0 1018.5 L1401.9 1016.7 L1400.8 1014.9 L1399.6 1013.1 L1398.5 1011.3 L1397.4 1009.5 L1396.2 1007.8 L1395.1 1006.0 L1393.9 1004.2 L1392.7 1002.5 L1391.5 1000.7 L1390.3 999.0 L1389.1 997.3 L1387.9 995.6 L1386.7 993.9 L1385.4 992.1 L1384.1 990.4 L1382.9 988.8 L1381.6 987.1 L1380.3 985.4 L1379.0 983.7 L1377.7 982.1 L1376.3 980.4 L1375.0 978.8 L1373.7 977.2 L1372.3 975.5 L1370.9 973.9 L1369.6 972.3 L1368.2 970.7 L1366.8 969.1 L1365.3 967.5 L1363.9 966.0 L1362.5 964.4 L1361.1 962.9 L1359.6 961.3 L1358.1 959.8 L1356.7 958.2 L1355.2 956.7 L1353.7 955.2 L1352.2 953.7 L1350.7 952.2 L1349.2 950.8 L1347.6 949.3 L1346.1 947.8 L1344.5 946.4 L1343.0 944.9 L1341.4 943.5 L1339.8 942.1 L1338.3 940.7 L1336.7 939.3 L1335.1 937.9 L1333.4 936.5 L1331.8 935.1 L1330.2 933.8 L1328.6 932.4 L1326.9 931.1 L1325.3 929.7 L1323.6 928.4 L1321.9 927.1 L1320.2 925.8 L1318.6 924.5 L1316.9 923.2 L1315.2 922.0 L1313.4 920.7 L1311.7 919.5 L1310.0 918.2 L1308.3 917.0 L1306.5 915.8 L1304.8 914.6 L1303.0 913.4 L1301.2 912.2 L1299.5 911.1 L1297.7 909.9 L1295.9 908.8 L1294.1 907.6 L1292.3 906.5 L1290.5 905.4 L1288.7 904.3 L1286.9 903.2 L1285.0 902.1 L1283.2 901.1 L1281.4 900.0 L1279.5 899.0 L1277.7 898.0 L1275.8 897.0 L1273.9 896.0 L1272.1 895.0 L1270.2 894.0 L1268.3 893.0 L1266.4 892.1 L1264.5 891.1 L1262.6 890.2 L1260.7 889.3 L1258.8 888.4 L1256.9 887.5 L1255.0 886.6 L1253.0 885.8 L1251.1 884.9 L1249.2 884.1 L1247.2 883.3 L1245.3 882.5 L1243.3 881.7 L1241.3 880.9 L1239.4 880.1 L1237.4 879.4 L1235.4 878.6 L1233.5 877.9 L1231.5 877.2 L1229.5 876.5 L1227.5 875.8 L1225.5 875.1 L1223.5 874.4 L1221.5 873.8 L1219.5 873.2 L1217.5 872.6 L1215.4 871.9 L1213.4 871.4 L1211.4 870.8 L1209.4 870.2 L1207.3 869.7 L1205.3 869.2 L1203.3 868.6 L1201.2 868.1 L1199.2 867.6 L1197.1 867.2 L1195.1 866.7 L1193.0 866.3 L1191.0 865.8 L1188.9 865.4 L1186.8 865.0 L1184.8 864.7 L1182.7 864.3 L1180.6 863.9 L1178.5 863.6 L1176.5 863.3 L1174.4 863.0 L1172.3 862.7 L1170.2 862.4 L1168.1 862.1 L1166.0 861.9 L1163.9 861.7 L1161.8 861.5 L1159.7 861.3 L1157.6 861.1 L1155.5 860.9 L1153.4 860.8 L1151.3 860.6 L1149.2 860.5 L1147.1 860.4 L1145.0 860.4 L1142.9 860.3 L1140.8 860.2 L1138.7 860.2Z" stroke="#f00" stroke-width="16.0" fill="none" stroke-linejoin="round" stroke-linecap="round"/>
<path d="M1136.0 861.1 L1133.9 861.1 L1131.8 861.2 L1129.7 861.2 L1127.6 861.3 L1125.5 861.4 L1123.4 861.5 L1121.3 861.6 L1119.2 861.7 L1117.1 861.9 L1115.1 862.0 L1113.0 862.2 L1110.9 862.4 L1108.8 862.6 L1106.7 862.8 L1104.6 863.0 L1102.5 863.3 L1100.5 863.5 L1098.4 863.8 L1096.3 864.1 L1094.2 864.4 L1092.2 864.7 L1090.1 865.1 L1088.0 865.4 L1086.0 865.8 L1083.9 866.2 L1081.9 866.6 L1079.8 867.0 L1077.8 867.4 L1075.7 867.9 L1073.7 868.3 L1071.6 868.8 L1069.6 869.3 L1067.6 869.8 L1065.6 870.3 L1063.5 870.8 L1061.5 871.4 L1059.5 871.9 L1057.5 872.5 L1055.5 873.1 L1053.5 873.7 L1051.5 874.3 L1049.5 875.0 L1047.5 875.6 L1045.6 876.3 L1043.6 877.0 L1041.6 877.6 L1039.7 878.4 L1037.7 879.1 L1035.8 879.8 L1033.8 880.6 L1031.9 881.3 L1030.0 882.1 L1028.0 882.9 L1026.1 883.7 L1024.2 884.5 L1022.3 885.3 L1020.4 886.2 L1018.5 887.1 L1016.6 887.9 L1014.8 888.8 L1012.9 889.7 L1011.0 890.6 L1009.2 891.6 L1007.3 892.5 L1005.5 893.5 L1003.7 894.5 L1001.9 895.4 L1000.0 896.5 L998.2 897.5 L996.4 898.5 L994.7 899.5 L992.9 900.6 L991.1 901.7 L989.3 902.8 L987.6 903.9 L985.8 905.0 L984.1 906.1 L982.4 907.2 L980.7 908.4 L979.0 909.6 L977.3 910.7 L975.6 911.9 L973.9 913.1 L972.3 914.4 L970.6 915.6 L969.0 916.9 L967.3 918.1 L965.7 919.4 L964.1 920.7 L962.5 922.0 L960.9 923.3 L959.3 924.6 L957.7 926.0 L956.2 927.3 L954.6 928.7 L953.1 930.1 L951.6 931.5 L950.1 932.9 L948.6 934.3 L947.1 935.8 L945.6 937.2 L944.1 938.7 L942.7 940.1 L941.2 941.6 L939.8 943.1 L938.4 944.6 L937.0 946.1 L935.5 947.6 L934.2 949.2 L932.8 950.7 L931.4 952.3 L930.0 953.9 L928.7 955.4 L927.3 957.0 L926.0 958.6 L924.7 960.2 L923.4 961.8 L922.1 963.5 L920.8 965.1 L919.5 966.8 L918.2 968.4 L917.0 970.1 L915.7 971.7 L914.5 973.4 L913.2 975.1 L912.0 976.8 L910.8 978.5 L909.6 980.2 L908.4 981.9 L907.2 983.6 L906.1 985.4 L904.9 987.1 L903.7 988.9 L902.6 990.6 L901.4 992.4 L900.3 994.1 L899.2 995.9 L898.1 997.7 L897.0 999.4 L895.9 1001.2 L894.8 1003.0 L893.7 1004.8 L892.7 1006.6 L891.6 1008.4 L890.6 1010.2 L889.5 1012.0 L888.5 1013.9 L887.5 1015.7 L886.4 1017.5 L885.4 1019.3 L884.4 1021.2 L883.4 1023.0 L882.5 1024.9 L881.5 1026.7 L880.5 1028.6 L879.6 1030.4 L878.6 1032.3 L877.7 1034.2 L876.8 1036.0 L875.9 1037.9 L875.0 1039.8 L874.1 1041.7 L873.2 1043.5 L872.3 1045.4 L871.4 1047.3 L870.6 1049.2 L869.7 1051.1 L868.9 1053.0 L868.1 1054.9 L867.2 1056.9 L866.4 1058.8 L865.6 1060.7 L864.9 1062.6 L864.1 1064.5 L863.3 1066.5 L862.6 1068.4 L861.8 1070.3 L861.1 1072.3 L860.3 1074.2 L859.6 1076.2 L858.9 1078.1 L858.2 1080.1 L857.6 1082.0 L856.9 1084.0 L856.2 1086.0 L855.6 1087.9 L854.9 1089.9 L854.3 1091.9 L853.7 1093.8 L853.1 1095.8 L852.5 1097.8 L851.9 1099.8 L851.3 1101.8 L850.8 1103.8 L850.2 1105.8 L849.7 1107.7 L849.1 1109.7 L848.6 1111.7 L848.1 1113.7 L847.6 1115.8 L847.2 1117.8 L846.7 1119.8 L846.2 1121.8 L845.8 1123.8 L845.3 1125.8 L844.9 1127.8 L844.5 1129.9 L844.1 1131.9 L843.7 1133.9 L843.4 1136.0 L843.0 1138.0 L842.6 1140.0 L842.3 1142.1 L842.0 1144.1 L841.7 1146.1 L841.4 1148.2 L841.1 1150.2 L840.8 1152.3 L840.5 1154.3 L840.3 1156.4 L840.1 1158.4 L839.8 1160.5 L839.6 1162.5 L839.4 1164.6 L839.2 1166.6 L839.1 1168.7 L838.9 1170.8 L838.8 1172.8 L838.6 1174.9 L838.5 1177.0 L838.4 1179.0 L838.3 1181.1 L838.2 1183.2 L838.2 1185.3 L838.1 1187.3 L838.1 1189.4 L838.1 1191.5 L838.0 1193.6 L838.1 1195.6 L838.1 1197.7 L838.1 1199.8 L838.1 1201.9 L838.2 1204.0 L838.3 1206.1 L838.4 1208.1 L838.5 1210.2 L838.6 1212.3 L838.7 1214.4 L838.8 1216.5 L839.0 1218.6 L839.2 1220.7 L839.4 1222.8 L839.6 1224.9 L839.8 1227.0 L840.0 1229.0 L840.3 1231.1 L840.5 1233.2 L840.8 1235.3 L841.1 1237.4 L841.4 1239.5 L841.7 1241.6 L842.0 1243.7 L842.4 1245.8 L842.8 1247.9 L843.1 1250.0 L843.5 1252.1 L843.9 1254.2 L844.4 1256.3 L844.8 1258.4 L845.3 1260.5 L845.7 1262.6 L846.2 1264.6 L846.7 1266.7 L847.2 1268.8 L847.8 1270.9 L848.3 1272.9 L848.9 1275.0 L849.4 1277.1 L850.0 1279.1 L850.6 1281.2 L851.3 1283.2 L851.9 1285.3 L852.5 1287.3 L853.2 1289.3 L853.9 1291.4 L854.6 1293.4 L855.3 1295.4 L856.0 1297.4 L856.8 1299.4 L857.5 1301.4 L858.3 1303.4 L859.1 1305.4 L859.9 1307.3 L860.7 1309.3 L861.6 1311.2 L862.4 1313.2 L863.3 1315.1 L864.2 1317.0 L865.1 1318.9 L866.0 1320.8 L866.9 1322.7 L867.9 1324.6 L868.8 1326.5 L869.8 1328.3 L870.8 1330.2 L871.8 1332.0 L872.8 1333.8 L873.9 1335.7 L874.9 1337.5 L876.0 1339.2 L877.1 1341.0 L878.2 1342.8 L879.3 1344.5 L880.4 1346.2 L881.6 1348.0 L882.7 1349.7 L883.9 1351.4 L885.1 1353.0 L886.3 1354.7 L887.6 1356.3 L888.8 1358.0 L890.1 1359.6 L891.3 1361.2 L892.6 1362.7 L893.9 1364.3 L895.3 1365.8 L896.6 1367.4 L898.0 1368.9 L899.3 1370.4 L900.7 1371.8 L902.1 1373.3 L903.5 1374.7 L905.0 1376.1 L906.4 1377.5 L907.9 1378.9 L909.4 1380.3 L910.9 1381.6 L912.4 1382.9 L913.9 1384.2 L915.5 1385.5 L917.0 1386.7 L918.6 1388.0 L920.2 1389.2 L921.8 1390.4 L923.5 1391.5 L925.1 1392.7 L926.8 1393.8 L928.4 1394.9 L930.1 1396.0 L931.8 1397.0 L933.6 1398.0 L935.3 1399.0 L937.1 1400.0 L938.8 1401.0 L940.6 1401.9 L942.4 1402.8 L944.3 1403.7 L946.1 1404.5 L948.0 1405.3 L949.8 1406.2 L951.7 1406.9 L953.6 1407.7 L955.5 1408.4 L957.4 1409.1 L959.4 1409.8 L961.3 1410.5 L963.3 1411.1 L965.3 1411.8 L967.2 1412.4 L969.2 1412.9 L971.2 1413.5 L973.2 1414.0 L975.3 1414.5 L977.3 1415.0 L979.3 1415.5 L981.4 1416.0 L983.4 1416.4 L985.5 1416.8 L987.6 1417.2 L989.6 1417.6 L991.7 1418.0 L993.8 1418.3 L995.9 1418.7 L998.0 1419.0 L1000.1 1419.3 L1002.2 1419.5 L1004.3 1419.8 L1006.4 1420.0 L1008.5 1420.3 L1010.6 1420.5 L1012.7 1420.7 L1014.8 1420.9 L1016.9 1421.0 L1019.1 1421.2 L1021.2 1421.3 L1023.3 1421.4 L1025.4 1421.5 L1027.5 1421.6 L1029.6 1421.7 L1031.8 1421.8 L1033.9 1421.8 L1036.0 1421.9 L1038.1 1421.9 L1040.2 1421.9 L1042.3 1422.0 L1044.4 1422.0 L1046.5 1421.9 L1048.6 1421.9 L1050.7 1421.9 L1052.8 1421.9 L1054.9 1421.8 L1056.9 1421.8 L1059.0 1421.7 L1061.1 1421.6 L1063.2 1421.6 L1065.3 1421.5 L1067.4 1421.4 L1069.5 1421.3 L1071.5 1421.2 L1073.6 1421.1 L1075.7 1421.0 L1077.8 1420.9 L1079.9 1420.8 L1082.0 1420.7 L1084.0 1420.6 L1086.1 1420.5 L1088.2 1420.4 L1090.3 1420.3 L1092.3 1420.2 L1094.4 1420.1 L1096.5 1419.9 L1098.6 1419.8 L1100.6 1419.7 L1102.7 1419.6 L1104.8 1419.5 L1106.9 1419.4 L1108.9 1419.3 L1111.0 1419.3 L1113.1 1419.2 L1115.2 1419.1 L1117.2 1419.0 L1119.3 1419.0 L1121.4 1418.9 L1123.5 1418.9 L1125.6 1418.8 L1127.6 1418.8 L1129.7 1418.8 L1131.8 1418.7 L1133.9 1418.7 L1135.9 1418.7 L1138.0 1418.8 L1140.1 1418.8 L1142.2 1418.8 L1144.3 1418.9 L1146.4 1418.9 L1148.4 1419.0 L1150.5 1419.0 L1152.6 1419.1 L1154.7 1419.2 L1156.8 1419.3 L1158.9 1419.4 L1161.0 1419.5 L1163.1 1419.6 L1165.2 1419.7 L1167.2 1419.8 L1169.3 1419.9 L1171.4 1420.0 L1173.5 1420.2 L1175.6 1420.3 L1177.7 1420.4 L1179.8 1420.5 L1181.9 1420.6 L1184.0 1420.8 L1186.1 1420.9 L1188.2 1421.0 L1190.2 1421.1 L1192.3 1421.3 L1194.4 1421.4 L1196.5 1421.5 L1198.6 1421.6 L1200.7 1421.7 L1202.8 1421.8 L1204.9 1421.9 L1207.0 1422.0 L1209.1 1422.1 L1211.2 1422.2 L1213.3 1422.3 L1215.3 1422.3 L1217.4 1422.4 L1219.5 1422.4 L1221.6 1422.5 L1223.7 1422.5 L1225.8 1422.6 L1227.9 1422.6 L1230.0 1422.6 L1232.1 1422.6 L1234.1 1422.6 L1236.2 1422.5 L1238.3 1422.5 L1240.4 1422.4 L1242.5 1422.4 L1244.6 1422.3 L1246.6 1422.2 L1248.7 1422.1 L1250.8 1421.9 L1252.9 1421.8 L1255.0 1421.6 L1257.0 1421.5 L1259.1 1421.3 L1261.2 1421.1 L1263.3 1420.8 L1265.3 1420.6 L1267.4 1420.3 L1269.5 1420.1 L1271.6 1419.7 L1273.6 1419.4 L1275.7 1419.1 L1277.8 1418.7 L1279.8 1418.3 L1281.9 1417.9 L1283.9 1417.5 L1286.0 1417.0 L1288.0 1416.6 L1290.1 1416.1 L1292.1 1415.6 L1294.2 1415.0 L1296.2 1414.5 L1298.2 1413.9 L1300.2 1413.3 L1302.2 1412.7 L1304.2 1412.1 L1306.2 1411.4 L1308.2 1410.7 L1310.2 1410.0 L1312.1 1409.3 L1314.1 1408.6 L1316.0 1407.8 L1318.0 1407.0 L1319.9 1406.2 L1321.8 1405.4 L1323.7 1404.6 L1325.6 1403.7 L1327.5 1402.8 L1329.3 1401.9 L1331.2 1401.0 L1333.0 1400.0 L1334.8 1399.1 L1336.6 1398.1 L1338.4 1397.1 L1340.2 1396.0 L1341.9 1395.0 L1343.7 1393.9 L1345.4 1392.8 L1347.1 1391.7 L1348.8 1390.6 L1350.5 1389.4 L1352.1 1388.2 L1353.7 1387.0 L1355.3 1385.8 L1356.9 1384.6 L1358.5 1383.3 L1360.1 1382.1 L1361.6 1380.8 L1363.1 1379.4 L1364.6 1378.1 L1366.1 1376.8 L1367.6 1375.4 L1369.0 1374.0 L1370.5 1372.6 L1371.9 1371.2 L1373.3 1369.7 L1374.7 1368.3 L1376.0 1366.8 L1377.4 1365.3 L1378.7 1363.8 L1380.0 1362.3 L1381.3 1360.7 L1382.6 1359.2 L1383.8 1357.6 L1385.1 1356.0 L1386.3 1354.4 L1387.5 1352.8 L1388.7 1351.1 L1389.9 1349.5 L1391.0 1347.8 L1392.2 1346.2 L1393.3 1344.5 L1394.4 1342.8 L1395.5 1341.0 L1396.5 1339.3 L1397.6 1337.6 L1398.6 1335.8 L1399.7 1334.0 L1400.7 1332.3 L1401.7 1330.5 L1402.6 1328.6 L1403.6 1326.8 L1404.5 1325.0 L1405.5 1323.2 L1406.4 1321.3 L1407.3 1319.4 L1408.1 1317.6 L1409.0 1315.7 L1409.8 1313.8 L1410.7 1311.9 L1411.5 1310.0 L1412.3 1308.0 L1413.1 1306.1 L1413.8 1304.1 L1414.6 1302.2 L1415.3 1300.2 L1416.0 1298.3 L1416.7 1296.3 L1417.4 1294.3 L1418.1 1292.3 L1418.8 1290.3 L1419.4 1288.3 L1420.0 1286.3 L1420.7 1284.2 L1421.3 1282.2 L1421.8 1280.2 L1422.4 1278.1 L1423.0 1276.1 L1423.5 1274.0 L1424.0 1272.0 L1424.5 1269.9 L1425.0 1267.8 L1425.5 1265.7 L1426.0 1263.7 L1426.4 1261.6 L1426.8 1259.5 L1427.3 1257.4 L1427.7 1255.3 L1428.1 1253.2 L1428.4 1251.1 L1428.8 1249.0 L1429.2 1246.8 L1429.5 1244.7 L1429.8 1242.6 L1430.1 1240.5 L1430.4 1238.4 L1430.7 1236.2 L1430.9 1234.1 L1431.2 1232.0 L1431.4 1229.8 L1431.7 1227.7 L1431.9 1225.6 L1432.1 1223.4 L1432.2 1221.3 L1432.4 1219.2 L1432.6 1217.0 L1432.7 1214.9 L1432.8 1212.8 L1432.9 1210.6 L1433.0 1208.5 L1433.1 1206.4 L1433.2 1204.2 L1433.3 1202.1 L1433.3 1200.0 L1433.3 1197.9 L1433.4 1195.7 L1433.4 1193.6 L1433.4 1191.5 L1433.4 1189.4 L1433.3 1187.3 L1433.3 1185.1 L1433.2 1183.0 L1433.2 1180.9 L1433.1 1178.8 L1433.0 1176.7 L1432.9 1174.6 L1432.7 1172.5 L1432.6 1170.4 L1432.5 1168.3 L1432.3 1166.3 L1432.1 1164.2 L1432.0 1162.1 L1431.8 1160.0 L1431.6 1157.9 L1431.3 1155.8 L1431.1 1153.8 L1430.9 1151.7 L1430.6 1149.6 L1430.3 1147.6 L1430.0 1145.5 L1429.8 1143.5 L1429.4 1141.4 L1429.1 1139.4 L1428.8 1137.3 L1428.5 1135.3 L1428.1 1133.2 L1427.7 1131.2 L1427.4 1129.2 L1427.0 1127.1 L1426.6 1125.1 L1426.1 1123.1 L1425.7 1121.0 L1425.3 1119.0 L1424.8 1117.0 L1424.4 1115.0 L1423.9 1113.0 L1423.4 1111.0 L1422.9 1109.0 L1422.4 1107.0 L1421.9 1105.0 L1421.4 1103.0 L1420.8 1101.0 L1420.3 1099.0 L1419.7 1097.0 L1419.1 1095.1 L1418.5 1093.1 L1417.9 1091.1 L1417.3 1089.2 L1416.7 1087.2 L1416.1 1085.2 L1415.4 1083.3 L1414.8 1081.3 L1414.1 1079.4 L1413.4 1077.5 L1412.7 1075.5 L1412.0 1073.6 L1411.3 1071.7 L1410.6 1069.7 L1409.9 1067.8 L1409.1 1065.9 L1408.4 1064.0 L1407.6 1062.1 L1406.8 1060.2 L1406.0 1058.3 L1405.2 1056.4 L1404.4 1054.5 L1403.6 1052.6 L1402.8 1050.7 L1401.9 1048.8 L1401.1 1046.9 L1400.2 1045.1 L1399.3 1043.2 L1398.5 1041.3 L1397.6 1039.5 L1396.7 1037.6 L1395.7 1035.8 L1394.8 1033.9 L1393.9 1032.1 L1392.9 1030.3 L1392.0 1028.4 L1391.0 1026.6 L1390.0 1024.8 L1389.1 1023.0 L1388.1 1021.2 L1387.1 1019.4 L1386.0 1017.6 L1385.0 1015.8 L1384.0 1014.0 L1382.9 1012.2 L1381.9 1010.4 L1380.8 1008.6 L1379.7 1006.8 L1378.6 1005.1 L1377.6 1003.3 L1376.4 1001.6 L1375.3 999.8 L1374.2 998.1 L1373.1 996.3 L1371.9 994.6 L1370.8 992.8 L1369.6 991.1 L1368.4 989.4 L1367.3 987.7 L1366.1 986.0 L1364.9 984.3 L1363.7 982.6 L1362.4 980.9 L1361.2 979.2 L1360.0 977.5 L1358.7 975.8 L1357.5 974.2 L1356.2 972.5 L1354.9 970.8 L1353.6 969.2 L1352.3 967.5 L1351.0 965.9 L1349.7 964.3 L1348.4 962.7 L1347.1 961.0 L1345.7 959.4 L1344.4 957.8 L1343.0 956.3 L1341.7 954.7 L1340.3 953.1 L1338.9 951.5 L1337.5 950.0 L1336.1 948.4 L1334.7 946.9 L1333.2 945.4 L1331.8 943.9 L1330.4 942.3 L1328.9 940.8 L1327.4 939.4 L1326.0 937.9 L1324.5 936.4 L1323.0 935.0 L1321.5 933.5 L1320.0 932.1 L1318.4 930.7 L1316.9 929.2 L1315.4 927.8 L1313.8 926.4 L1312.3 925.1 L1310.7 923.7 L1309.1 922.4 L1307.5 921.0 L1305.9 919.7 L1304.3 918.4 L1302.7 917.1 L1301.1 915.8 L1299.4 914.5 L1297.8 913.2 L1296.1 912.0 L1294.5 910.7 L1292.8 909.5 L1291.1 908.3 L1289.4 907.1 L1287.7 905.9 L1286.0 904.8 L1284.3 903.6 L1282.5 902.5 L1280.8 901.3 L1279.1 900.2 L1277.3 899.2 L1275.5 898.1 L1273.7 897.0 L1272.0 896.0 L1270.2 894.9 L1268.3 893.9 L1266.5 892.9 L1264.7 891.9 L1262.9 891.0 L1261.0 890.0 L1259.2 889.1 L1257.3 888.2 L1255.5 887.3 L1253.6 886.4 L1251.7 885.5 L1249.8 884.6 L1247.9 883.8 L1246.0 883.0 L1244.1 882.1 L1242.2 881.3 L1240.2 880.6 L1238.3 879.8 L1236.4 879.0 L1234.4 878.3 L1232.5 877.6 L1230.5 876.9 L1228.5 876.2 L1226.6 875.5 L1224.6 874.9 L1222.6 874.2 L1220.6 873.6 L1218.6 873.0 L1216.6 872.4 L1214.6 871.8 L1212.6 871.2 L1210.6 870.7 L1208.6 870.1 L1206.6 869.6 L1204.5 869.1 L1202.5 868.6 L1200.5 868.2 L1198.4 867.7 L1196.4 867.3 L1194.3 866.8 L1192.3 866.4 L1190.2 866.0 L1188.2 865.6 L1186.1 865.3 L1184.0 864.9 L1182.0 864.6 L1179.9 864.3 L1177.8 864.0 L1175.8 863.7 L1173.7 863.4 L1171.6 863.1 L1169.5 862.9 L1167.4 862.7 L1165.3 862.5 L1163.3 862.3 L1161.2 862.1 L1159.1 861.9 L1157.0 861.8 L1154.9 861.6 L1152.8 861.5 L1150.7 861.4 L1148.6 861.3 L1146.5 861.3 L1144.4 861.2 L1142.3 861.2 L1140.2 861.1 L1138.1 861.1Z" stroke="#00f" stroke-width="16.0" fill="none" stroke-linejoin="round" stroke-linecap="round"/>
<path d="M1835.6 857.5 L1832.6 857.5 L1829.7 857.6 L1826.8 857.7 L1823.9 857.8 L1821.0 857.9 L1818.1 858.1 L1815.2 858.3 L1812.3 858.5 L1809.4 858.8 L1806.5 859.1 L1803.6 859.4 L1800.7 859.8 L1797.8 860.1 L1794.9 860.6 L1792.1 861.0 L1789.2 861.5 L1786.3 862.0 L1783.4 862.5 L1780.6 863.0 L1777.7 863.6 L1774.9 864.2 L1772.0 864.9 L1769.2 865.6 L1766.4 866.3 L1763.5 867.0 L1760.7 867.7 L1757.9 868.5 L1755.1 869.3 L1752.3 870.2 L1749.5 871.0 L1746.8 871.9 L1744.0 872.9 L1741.2 873.8 L1738.5 874.8 L1735.7 875.8 L1733.0 876.8 L1730.3 877.9 L1727.6 879.0 L1724.9 880.1 L1722.2 881.2 L1719.5 882.4 L1716.9 883.6 L1714.2 884.8 L1711.6 886.1 L1708.9 887.3 L1706.3 888.6 L1703.7 890.0 L1701.1 891.3 L1698.6 892.7 L1696.0 894.1 L1693.5 895.5 L1690.9 897.0 L1688.4 898.4 L1685.9 899.9 L1683.4 901.5 L1681.0 903.0 L1678.5 904.6 L1676.1 906.2 L1673.6 907.8 L1671.2 909.5 L1668.9 911.2 L1666.5 912.9 L1664.1 914.6 L1661.8 916.4 L1659.5 918.1 L1657.2 919.9 L1654.9 921.8 L1652.6 923.6 L1650.4 925.5 L1648.2 927.4 L1646.0 929.3 L1643.8 931.2 L1641.6 933.2 L1639.5 935.2 L1637.4 937.2 L1635.3 939.2 L1633.2 941.3 L1631.1 943.4 L1629.1 945.5 L1627.1 947.6 L1625.1 949.7 L1623.1 951.9 L1621.2 954.1 L1619.3 956.3 L1617.4 958.5 L1615.5 960.8 L1613.6 963.0 L1611.8 965.3 L1610.0 967.6 L1608.2 970.0 L1606.4 972.3 L1604.7 974.7 L1603.0 977.1 L1601.3 979.5 L1599.7 981.9 L1598.0 984.3 L1596.4 986.8 L1594.8 989.2 L1593.3 991.7 L1591.7 994.2 L1590.2 996.7 L1588.7 999.3 L1587.3 1001.8 L1585.8 1004.4 L1584.4 1006.9 L1583.1 1009.5 L1581.7 1012.1 L1580.4 1014.7 L1579.1 1017.4 L1577.8 1020.0 L1576.6 1022.7 L1575.4 1025.3 L1574.2 1028.0 L1573.0 1030.7 L1571.9 1033.4 L1570.8 1036.1 L1569.7 1038.8 L1568.7 1041.5 L1567.6 1044.3 L1566.7 1047.0 L1565.7 1049.8 L1564.8 1052.6 L1563.9 1055.3 L1563.0 1058.1 L1562.2 1060.9 L1561.3 1063.7 L1560.6 1066.5 L1559.8 1069.3 L1559.1 1072.2 L1558.4 1075.0 L1557.8 1077.8 L1557.1 1080.7 L1556.5 1083.5 L1556.0 1086.3 L1555.4 1089.2 L1554.9 1092.1 L1554.5 1094.9 L1554.0 1097.8 L1553.6 1100.7 L1553.3 1103.5 L1552.9 1106.4 L1552.6 1109.3 L1552.3 1112.2 L1552.1 1115.1 L1551.9 1117.9 L1551.7 1120.8 L1551.5 1123.7 L1551.4 1126.6 L1551.3 1129.5 L1551.3 1132.4 L1551.2 1135.3 L1551.2 1138.2 L1551.2 1141.1 L1551.3 1144.0 L1551.3 1146.9 L1551.4 1149.8 L1551.6 1152.7 L1551.7 1155.6 L1551.9 1158.5 L1552.1 1161.5 L1552.3 1164.4 L1552.5 1167.3 L1552.8 1170.2 L1553.1 1173.1 L1553.4 1176.0 L1553.7 1178.9 L1554.1 1181.8 L1554.5 1184.7 L1554.8 1187.6 L1555.3 1190.5 L1555.7 1193.4 L1556.1 1196.3 L1556.6 1199.2 L1557.1 1202.1 L1557.6 1205.0 L1558.1 1207.9 L1558.7 1210.8 L1559.2 1213.7 L1559.8 1216.6 L1560.4 1219.5 L1561.0 1222.3 L1561.7 1225.2 L1562.3 1228.1 L1563.0 1230.9 L1563.7 1233.8 L1564.4 1236.7 L1565.2 1239.5 L1565.9 1242.3 L1566.7 1245.2 L1567.5 1248.0 L1568.3 1250.8 L1569.2 1253.6 L1570.1 1256.4 L1571.0 1259.2 L1571.9 1262.0 L1572.8 1264.7 L1573.8 1267.5 L1574.8 1270.3 L1575.8 1273.0 L1576.9 1275.7 L1578.0 1278.4 L1579.1 1281.1 L1580.2 1283.8 L1581.3 1286.5 L1582.5 1289.2 L1583.7 1291.8 L1584.9 1294.4 L1586.2 1297.1 L1587.5 1299.7 L1588.8 1302.3 L1590.1 1304.8 L1591.5 1307.4 L1592.9 1309.9 L1594.3 1312.5 L1595.8 1315.0 L1597.3 1317.5 L1598.8 1319.9 L1600.4 1322.4 L1601.9 1324.8 L1603.5 1327.2 L1605.2 1329.6 L1606.9 1332.0 L1608.6 1334.4 L1610.3 1336.7 L1612.0 1339.0 L1613.8 1341.4 L1615.6 1343.7 L1617.3 1346.0 L1619.1 1348.3 L1620.9 1350.6 L1622.7 1352.9 L1624.6 1355.2 L1626.4 1357.5 L1628.1 1359.8 L1629.9 1362.1 L1631.7 1364.4 L1633.4 1366.7 L1635.2 1369.1 L1636.9 1371.4 L1638.6 1373.8 L1640.2 1376.2 L1641.8 1378.6 L1643.4 1381.0 L1645.0 1383.5 L1646.5 1386.0 L1648.0 1388.5 L1649.4 1391.1 L1650.7 1393.6 L1652.0 1396.3 L1653.3 1398.9 L1654.5 1401.6 L1655.6 1404.3 L1656.8 1407.0 L1658.0 1409.7 L1659.2 1412.3 L1660.6 1414.8 L1662.2 1417.0 L1664.1 1418.7 L1666.2 1418.4 L1668.1 1416.3 L1668.9 1413.5 L1668.8 1410.4 L1668.2 1407.3 L1667.5 1404.3 L1666.6 1401.4 L1665.7 1398.6 L1664.6 1395.9 L1663.4 1393.3 L1662.1 1390.7 L1660.7 1388.2 L1659.3 1385.7 L1657.8 1383.2 L1656.3 1380.8 L1654.7 1378.3 L1653.1 1375.9 L1651.5 1373.4 L1650.0 1371.0 L1648.4 1368.5 L1646.9 1366.0 L1645.4 1363.5 L1643.9 1361.0 L1642.5 1358.5 L1641.0 1355.9 L1639.6 1353.4 L1638.2 1350.8 L1636.9 1348.2 L1635.5 1345.7 L1634.2 1343.1 L1632.9 1340.4 L1631.6 1337.8 L1630.4 1335.2 L1629.2 1332.5 L1627.9 1329.9 L1626.8 1327.2 L1625.6 1324.6 L1624.4 1321.9 L1623.3 1319.2 L1622.2 1316.5 L1621.1 1313.8 L1620.0 1311.1 L1619.0 1308.3 L1617.9 1305.6 L1616.9 1302.9 L1615.9 1300.1 L1615.0 1297.4 L1614.0 1294.7 L1613.1 1291.9 L1612.2 1289.1 L1611.3 1286.4 L1610.4 1283.6 L1609.5 1280.8 L1608.7 1278.0 L1607.9 1275.2 L1607.1 1272.4 L1606.3 1269.6 L1605.5 1266.8 L1604.8 1264.0 L1604.1 1261.2 L1603.4 1258.4 L1602.7 1255.6 L1602.0 1252.7 L1601.4 1249.9 L1600.7 1247.0 L1600.1 1244.2 L1599.5 1241.3 L1598.9 1238.5 L1598.4 1235.6 L1597.8 1232.7 L1597.3 1229.9 L1596.8 1227.0 L1596.3 1224.1 L1595.9 1221.2 L1595.4 1218.3 L1595.0 1215.4 L1594.6 1212.5 L1594.2 1209.6 L1593.8 1206.7 L1593.5 1203.7 L1593.1 1200.8 L1592.8 1197.9 L1592.5 1194.9 L1592.3 1192.0 L1592.0 1189.1 L1591.8 1186.2 L1591.6 1183.2 L1591.4 1180.3 L1591.3 1177.4 L1591.1 1174.4 L1591.0 1171.5 L1591.0 1168.6 L1590.9 1165.7 L1590.9 1162.8 L1590.9 1159.9 L1591.0 1157.0 L1591.1 1154.1 L1591.2 1151.3 L1591.3 1148.4 L1591.5 1145.6 L1591.7 1142.7 L1592.0 1139.9 L1592.4 1137.1 L1593.0 1134.4 L1593.9 1131.7 L1595.0 1129.1 L1596.4 1126.5 L1598.0 1124.0 L1599.9 1121.6 L1602.0 1119.3 L1604.2 1117.1 L1606.5 1115.1 L1608.9 1113.1 L1611.4 1111.3 L1613.9 1109.7 L1616.4 1108.1 L1619.0 1106.7 L1621.6 1105.4 L1624.2 1104.2 L1626.9 1103.2 L1629.6 1102.2 L1632.3 1101.3 L1635.1 1100.5 L1637.8 1099.8 L1640.6 1099.2 L1643.4 1098.6 L1646.2 1098.1 L1649.1 1097.7 L1651.9 1097.3 L1654.8 1097.0 L1657.7 1096.7 L1660.6 1096.4 L1663.5 1096.2 L1666.4 1096.0 L1669.3 1095.8 L1672.2 1095.6 L1675.1 1095.5 L1678.0 1095.3 L1680.9 1095.2 L1683.8 1095.0 L1686.7 1094.9 L1689.6 1094.8 L1692.5 1094.7 L1695.4 1094.6 L1698.3 1094.5 L1701.3 1094.4 L1704.2 1094.3 L1707.1 1094.3 L1710.0 1094.2 L1712.9 1094.2 L1715.8 1094.1 L1718.8 1094.1 L1721.7 1094.1 L1724.6 1094.0 L1727.5 1094.0 L1730.4 1094.0 L1733.4 1094.0 L1736.3 1094.0 L1739.2 1094.0 L1742.1 1094.0 L1745.0 1094.1 L1748.0 1094.1 L1750.9 1094.1 L1753.8 1094.1 L1756.7 1094.2 L1759.7 1094.2 L1762.6 1094.2 L1765.5 1094.3 L1768.4 1094.3 L1771.4 1094.4 L1774.3 1094.4 L1777.2 1094.5 L1780.1 1094.5 L1783.1 1094.6 L1786.0 1094.6 L1788.9 1094.7 L1791.8 1094.7 L1794.7 1094.8 L1797.7 1094.8 L1800.6 1094.9 L1803.5 1094.9 L1806.4 1095.0 L1809.4 1095.1 L1812.3 1095.1 L1815.2 1095.2 L1818.1 1095.2 L1821.0 1095.3 L1824.0 1095.3 L1826.9 1095.3 L1829.8 1095.4 L1832.7 1095.4 L1835.6 1095.5 L1838.6 1095.5 L1841.5 1095.5 L1844.4 1095.5 L1847.3 1095.6 L1850.2 1095.6 L1853.1 1095.6 L1856.0 1095.6 L1859.0 1095.6 L1861.9 1095.6 L1864.8 1095.6 L1867.7 1095.6 L1870.6 1095.6 L1873.5 1095.6 L1876.4 1095.6 L1879.3 1095.6 L1882.3 1095.6 L1885.2 1095.6 L1888.1 1095.6 L1891.0 1095.6 L1893.9 1095.6 L1896.8 1095.6 L1899.7 1095.6 L1902.6 1095.6 L1905.5 1095.5 L1908.5 1095.5 L1911.4 1095.5 L1914.3 1095.5 L1917.2 1095.5 L1920.1 1095.5 L1923.0 1095.4 L1925.9 1095.4 L1928.9 1095.4 L1931.8 1095.4 L1934.7 1095.4 L1937.6 1095.4 L1940.5 1095.3 L1943.4 1095.3 L1946.4 1095.3 L1949.3 1095.3 L1952.2 1095.3 L1955.1 1095.3 L1958.0 1095.3 L1961.0 1095.3 L1963.9 1095.3 L1966.8 1095.2 L1969.7 1095.2 L1972.7 1095.2 L1975.6 1095.2 L1978.5 1095.2 L1981.4 1095.3 L1984.4 1095.3 L1987.3 1095.3 L1990.2 1095.3 L1993.2 1095.3 L1996.1 1095.3 L1999.1 1095.3 L2002.0 1095.4 L2004.9 1095.4 L2007.9 1095.4 L2010.8 1095.5 L2013.7 1095.7 L2016.6 1095.9 L2019.5 1096.1 L2022.4 1096.5 L2025.2 1097.0 L2028.0 1097.5 L2030.8 1098.2 L2033.6 1099.0 L2036.3 1099.9 L2039.0 1101.0 L2041.7 1102.1 L2044.4 1103.3 L2047.0 1104.6 L2049.6 1106.0 L2052.2 1107.4 L2054.7 1109.0 L2057.2 1110.6 L2059.7 1112.3 L2062.1 1114.1 L2064.5 1115.9 L2066.9 1117.8 L2069.0 1119.8 L2071.1 1121.9 L2072.9 1124.1 L2074.5 1126.4 L2075.8 1128.8 L2077.0 1131.3 L2078.0 1133.9 L2078.8 1136.6 L2079.5 1139.3 L2080.0 1142.1 L2080.4 1144.9 L2080.7 1147.8 L2080.9 1150.8 L2080.9 1153.7 L2080.9 1156.7 L2080.9 1159.7 L2080.8 1162.7 L2080.6 1165.7 L2080.4 1168.8 L2080.2 1171.8 L2080.0 1174.8 L2079.8 1177.7 L2079.5 1180.7 L2079.3 1183.7 L2079.0 1186.6 L2078.8 1189.6 L2078.5 1192.5 L2078.2 1195.4 L2077.9 1198.3 L2077.6 1201.2 L2077.3 1204.1 L2076.9 1207.0 L2076.6 1209.9 L2076.2 1212.7 L2075.8 1215.6 L2075.4 1218.4 L2075.0 1221.3 L2074.6 1224.1 L2074.1 1227.0 L2073.6 1229.8 L2073.2 1232.6 L2072.7 1235.5 L2072.1 1238.3 L2071.6 1241.1 L2071.0 1243.9 L2070.5 1246.8 L2069.9 1249.6 L2069.2 1252.4 L2068.6 1255.2 L2067.9 1258.0 L2067.3 1260.9 L2066.6 1263.7 L2065.8 1266.5 L2065.1 1269.3 L2064.3 1272.2 L2063.5 1275.0 L2062.7 1277.8 L2061.9 1280.6 L2061.0 1283.4 L2060.1 1286.2 L2059.2 1289.0 L2058.3 1291.8 L2057.4 1294.6 L2056.4 1297.4 L2055.4 1300.2 L2054.4 1303.0 L2053.4 1305.7 L2052.4 1308.5 L2051.3 1311.2 L2050.2 1314.0 L2049.1 1316.7 L2048.0 1319.4 L2046.8 1322.1 L2045.6 1324.8 L2044.4 1327.5 L2043.2 1330.2 L2042.0 1332.8 L2040.7 1335.5 L2039.5 1338.1 L2038.2 1340.7 L2036.9 1343.3 L2035.5 1345.8 L2034.2 1348.4 L2032.8 1350.9 L2031.4 1353.4 L2030.0 1355.9 L2028.5 1358.4 L2027.1 1360.9 L2025.6 1363.3 L2024.1 1365.8 L2022.7 1368.2 L2021.2 1370.6 L2019.7 1373.1 L2018.2 1375.5 L2016.7 1378.0 L2015.2 1380.5 L2013.8 1383.0 L2012.3 1385.5 L2010.9 1388.1 L2009.5 1390.8 L2008.1 1393.4 L2006.8 1396.1 L2005.5 1398.9 L2004.2 1401.7 L2003.1 1404.6 L2002.3 1407.5 L2002.0 1410.3 L2002.4 1413.1 L2003.5 1415.7 L2005.5 1417.9 L2007.5 1418.7 L2009.1 1417.8 L2010.5 1415.6 L2011.8 1412.7 L2013.0 1409.7 L2014.1 1406.7 L2015.3 1403.7 L2016.5 1400.9 L2017.7 1398.2 L2018.9 1395.5 L2020.2 1392.9 L2021.5 1390.3 L2022.8 1387.8 L2024.2 1385.3 L2025.6 1382.9 L2027.2 1380.6 L2028.8 1378.3 L2030.4 1376.0 L2032.2 1373.7 L2034.0 1371.4 L2035.9 1369.2 L2037.8 1367.0 L2039.8 1364.7 L2041.7 1362.5 L2043.6 1360.3 L2045.6 1358.0 L2047.5 1355.8 L2049.3 1353.5 L2051.2 1351.2 L2053.0 1348.9 L2054.7 1346.5 L2056.5 1344.2 L2058.2 1341.8 L2059.9 1339.4 L2061.6 1337.0 L2063.2 1334.6 L2064.8 1332.2 L2066.4 1329.8 L2067.9 1327.3 L2069.5 1324.8 L2071.0 1322.3 L2072.5 1319.9 L2073.9 1317.3 L2075.3 1314.8 L2076.7 1312.3 L2078.1 1309.7 L2079.5 1307.2 L2080.8 1304.6 L2082.1 1302.0 L2083.4 1299.4 L2084.6 1296.8 L2085.9 1294.1 L2087.1 1291.5 L2088.3 1288.8 L2089.4 1286.2 L2090.6 1283.5 L2091.7 1280.8 L2092.8 1278.1 L2093.8 1275.4 L2094.9 1272.7 L2095.9 1270.0 L2096.9 1267.3 L2097.9 1264.5 L2098.9 1261.8 L2099.8 1259.0 L2100.7 1256.2 L2101.6 1253.5 L2102.5 1250.7 L2103.4 1247.9 L2104.2 1245.1 L2105.0 1242.3 L2105.8 1239.5 L2106.6 1236.6 L2107.4 1233.8 L2108.1 1231.0 L2108.8 1228.1 L2109.5 1225.3 L2110.2 1222.4 L2110.9 1219.6 L2111.5 1216.7 L2112.1 1213.8 L2112.7 1210.9 L2113.3 1208.1 L2113.8 1205.2 L2114.4 1202.3 L2114.9 1199.4 L2115.3 1196.5 L2115.8 1193.6 L2116.2 1190.7 L2116.7 1187.8 L2117.0 1184.9 L2117.4 1182.0 L2117.8 1179.1 L2118.1 1176.1 L2118.4 1173.2 L2118.6 1170.3 L2118.9 1167.4 L2119.1 1164.5 L2119.3 1161.5 L2119.5 1158.6 L2119.6 1155.7 L2119.7 1152.8 L2119.8 1149.8 L2119.9 1146.9 L2119.9 1144.0 L2120.0 1141.1 L2120.0 1138.2 L2119.9 1135.3 L2119.9 1132.3 L2119.8 1129.4 L2119.6 1126.5 L2119.5 1123.6 L2119.3 1120.7 L2119.1 1117.8 L2118.9 1114.9 L2118.6 1112.0 L2118.4 1109.1 L2118.0 1106.2 L2117.7 1103.3 L2117.3 1100.5 L2116.9 1097.6 L2116.5 1094.7 L2116.0 1091.8 L2115.6 1089.0 L2115.0 1086.1 L2114.5 1083.3 L2113.9 1080.4 L2113.3 1077.6 L2112.7 1074.8 L2112.0 1072.0 L2111.3 1069.1 L2110.5 1066.3 L2109.8 1063.5 L2109.0 1060.8 L2108.1 1058.0 L2107.3 1055.2 L2106.4 1052.4 L2105.5 1049.7 L2104.5 1046.9 L2103.5 1044.2 L2102.5 1041.5 L2101.5 1038.7 L2100.4 1036.0 L2099.3 1033.3 L2098.2 1030.7 L2097.1 1028.0 L2095.9 1025.3 L2094.7 1022.7 L2093.4 1020.0 L2092.1 1017.4 L2090.8 1014.8 L2089.5 1012.2 L2088.2 1009.6 L2086.8 1007.0 L2085.4 1004.5 L2084.0 1001.9 L2082.5 999.4 L2081.0 996.9 L2079.5 994.4 L2078.0 991.9 L2076.4 989.4 L2074.8 986.9 L2073.2 984.5 L2071.6 982.1 L2069.9 979.7 L2068.2 977.3 L2066.5 974.9 L2064.8 972.5 L2063.0 970.2 L2061.2 967.9 L2059.4 965.6 L2057.6 963.3 L2055.7 961.0 L2053.9 958.8 L2052.0 956.5 L2050.0 954.3 L2048.1 952.1 L2046.1 950.0 L2044.1 947.8 L2042.1 945.7 L2040.1 943.6 L2038.0 941.5 L2036.0 939.4 L2033.9 937.4 L2031.7 935.3 L2029.6 933.3 L2027.4 931.4 L2025.3 929.4 L2023.1 927.5 L2020.8 925.6 L2018.6 923.7 L2016.4 921.8 L2014.1 920.0 L2011.8 918.2 L2009.5 916.4 L2007.1 914.6 L2004.8 912.9 L2002.4 911.1 L2000.0 909.5 L1997.6 907.8 L1995.2 906.1 L1992.8 904.5 L1990.3 902.9 L1987.8 901.4 L1985.4 899.8 L1982.9 898.3 L1980.3 896.8 L1977.8 895.4 L1975.3 893.9 L1972.7 892.5 L1970.1 891.2 L1967.5 889.8 L1964.9 888.5 L1962.3 887.2 L1959.7 885.9 L1957.0 884.6 L1954.4 883.4 L1951.7 882.2 L1949.0 881.1 L1946.3 879.9 L1943.6 878.8 L1940.9 877.7 L1938.2 876.7 L1935.5 875.6 L1932.7 874.6 L1930.0 873.6 L1927.2 872.7 L1924.4 871.8 L1921.7 870.9 L1918.9 870.0 L1916.1 869.2 L1913.3 868.4 L1910.5 867.6 L1907.6 866.8 L1904.8 866.1 L1902.0 865.4 L1899.1 864.7 L1896.3 864.1 L1893.4 863.5 L1890.6 862.9 L1887.7 862.4 L1884.8 861.8 L1882.0 861.4 L1879.1 860.9 L1876.2 860.5 L1873.3 860.1 L1870.4 859.7 L1867.5 859.3 L1864.6 859.0 L1861.7 858.7 L1858.8 858.5 L1855.9 858.3 L1853.0 858.1 L1850.1 857.9 L1847.2 857.8 L1844.3 857.7 L1841.4 857.6 L1838.5 857.5Z" stroke="#000" stroke-width="16.0" fill="none" stroke-linejoin="round" stroke-linecap="round"/>
<path d="M1835.6 857.8 L1832.8 857.8 L1830.1 857.9 L1827.3 857.9 L1824.5 858.0 L1821.8 858.2 L1819.0 858.3 L1816.3 858.5 L1813.5 858.7 L1810.7 858.9 L1808.0 859.2 L1805.2 859.5 L1802.5 859.8 L1799.7 860.2 L1797.0 860.5 L1794.3 860.9 L1791.5 861.4 L1788.8 861.8 L1786.1 862.3 L1783.3 862.8 L1780.6 863.3 L1777.9 863.9 L1775.2 864.5 L1772.5 865.1 L1769.8 865.7 L1767.1 866.4 L1764.4 867.1 L1761.8 867.8 L1759.1 868.6 L1756.4 869.3 L1753.8 870.1 L1751.1 871.0 L1748.5 871.8 L1745.9 872.7 L1743.2 873.6 L1740.6 874.5 L1738.0 875.5 L1735.4 876.5 L1732.8 877.5 L1730.3 878.5 L1727.7 879.5 L1725.1 880.6 L1722.6 881.7 L1720.1 882.8 L1717.5 884.0 L1715.0 885.2 L1712.5 886.4 L1710.0 887.6 L1707.6 888.9 L1705.1 890.1 L1702.6 891.4 L1700.2 892.8 L1697.8 894.1 L1695.4 895.5 L1693.0 896.9 L1690.6 898.3 L1688.2 899.8 L1685.8 901.2 L1683.5 902.7 L1681.2 904.2 L1678.9 905.8 L1676.6 907.3 L1674.3 908.9 L1672.0 910.5 L1669.8 912.2 L1667.5 913.8 L1665.3 915.5 L1663.1 917.2 L1660.9 918.9 L1658.8 920.7 L1656.6 922.5 L1654.5 924.3 L1652.4 926.1 L1650.3 927.9 L1648.2 929.8 L1646.2 931.7 L1644.1 933.6 L1642.1 935.5 L1640.1 937.4 L1638.1 939.4 L1636.2 941.4 L1634.2 943.4 L1632.3 945.4 L1630.4 947.4 L1628.5 949.5 L1626.6 951.6 L1624.8 953.7 L1623.0 955.8 L1621.2 957.9 L1619.4 960.1 L1617.6 962.2 L1615.9 964.4 L1614.2 966.6 L1612.5 968.8 L1610.8 971.1 L1609.2 973.3 L1607.5 975.6 L1605.9 977.8 L1604.4 980.1 L1602.8 982.5 L1601.3 984.8 L1599.8 987.1 L1598.3 989.5 L1596.8 991.8 L1595.4 994.2 L1594.0 996.6 L1592.6 999.0 L1591.2 1001.5 L1589.8 1003.9 L1588.5 1006.3 L1587.2 1008.8 L1586.0 1011.3 L1584.7 1013.7 L1583.5 1016.2 L1582.3 1018.7 L1581.2 1021.3 L1580.0 1023.8 L1578.9 1026.3 L1577.8 1028.9 L1576.8 1031.4 L1575.7 1034.0 L1574.7 1036.6 L1573.8 1039.2 L1572.8 1041.8 L1571.9 1044.4 L1571.0 1047.0 L1570.1 1049.6 L1569.3 1052.2 L1568.5 1054.9 L1567.7 1057.5 L1567.0 1060.2 L1566.2 1062.8 L1565.5 1065.5 L1564.9 1068.2 L1564.2 1070.9 L1563.6 1073.5 L1563.1 1076.2 L1562.5 1078.9 L1562.0 1081.6 L1561.5 1084.3 L1561.0 1087.0 L1560.6 1089.8 L1560.2 1092.5 L1559.8 1095.2 L1559.5 1097.9 L1559.1 1100.7 L1558.8 1103.4 L1558.6 1106.2 L1558.3 1108.9 L1558.1 1111.7 L1557.9 1114.4 L1557.7 1117.2 L1557.6 1119.9 L1557.4 1122.7 L1557.4 1125.4 L1557.3 1128.2 L1557.2 1131.0 L1557.2 1133.7 L1557.2 1136.5 L1557.2 1139.3 L1557.3 1142.1 L1557.4 1144.8 L1557.5 1147.6 L1557.6 1150.4 L1557.7 1153.2 L1557.9 1155.9 L1558.1 1158.7 L1558.3 1161.5 L1558.5 1164.2 L1558.8 1167.0 L1559.0 1169.8 L1559.3 1172.6 L1559.7 1175.3 L1560.0 1178.1 L1560.4 1180.9 L1560.7 1183.6 L1561.1 1186.4 L1561.6 1189.1 L1562.0 1191.9 L1562.5 1194.7 L1562.9 1197.4 L1563.4 1200.1 L1563.9 1202.9 L1564.5 1205.6 L1565.0 1208.4 L1565.6 1211.1 L1566.2 1213.8 L1566.8 1216.5 L1567.4 1219.3 L1568.1 1222.0 L1568.8 1224.7 L1569.4 1227.4 L1570.1 1230.1 L1570.8 1232.8 L1571.6 1235.5 L1572.3 1238.1 L1573.1 1240.8 L1573.9 1243.5 L1574.7 1246.1 L1575.5 1248.8 L1576.3 1251.4 L1577.1 1254.1 L1578.0 1256.7 L1578.9 1259.3 L1579.8 1262.0 L1580.7 1264.6 L1581.6 1267.2 L1582.6 1269.8 L1583.5 1272.4 L1584.5 1274.9 L1585.5 1277.5 L1586.6 1280.1 L1587.6 1282.6 L1588.7 1285.2 L1589.8 1287.7 L1590.9 1290.3 L1592.0 1292.8 L1593.1 1295.3 L1594.3 1297.8 L1595.5 1300.3 L1596.7 1302.8 L1597.9 1305.3 L1599.2 1307.8 L1600.5 1310.2 L1601.8 1312.7 L1603.1 1315.1 L1604.5 1317.6 L1605.8 1320.0 L1607.2 1322.4 L1608.7 1324.8 L1610.1 1327.2 L1611.6 1329.6 L1613.1 1332.0 L1614.6 1334.4 L1616.1 1336.7 L1617.7 1339.0 L1619.3 1341.3 L1620.9 1343.6 L1622.6 1345.8 L1624.2 1348.0 L1625.9 1350.2 L1627.6 1352.3 L1629.3 1354.3 L1631.1 1356.3 L1632.8 1358.2 L1634.6 1360.1 L1636.4 1361.9 L1638.2 1363.7 L1640.0 1365.5 L1641.7 1367.4 L1643.5 1369.3 L1645.2 1371.3 L1646.9 1373.5 L1648.5 1375.8 L1650.1 1378.3 L1651.6 1381.1 L1653.1 1384.1 L1654.4 1387.4 L1655.7 1390.8 L1657.0 1393.7 L1658.4 1395.2 L1659.9 1395.0 L1661.4 1393.4 L1662.5 1390.8 L1662.9 1388.0 L1662.6 1385.2 L1661.7 1382.6 L1660.4 1380.1 L1659.0 1377.6 L1657.7 1375.0 L1656.4 1372.5 L1655.2 1370.0 L1654.1 1367.4 L1653.0 1364.8 L1651.9 1362.2 L1650.9 1359.6 L1650.0 1357.0 L1649.1 1354.4 L1648.2 1351.8 L1647.3 1349.2 L1646.5 1346.5 L1645.7 1343.9 L1644.9 1341.2 L1644.1 1338.6 L1643.4 1335.9 L1642.6 1333.3 L1641.9 1330.6 L1641.2 1328.0 L1640.4 1325.3 L1639.7 1322.7 L1638.9 1320.0 L1638.2 1317.4 L1637.4 1314.7 L1636.6 1312.1 L1635.8 1309.5 L1635.0 1306.8 L1634.1 1304.2 L1633.2 1301.6 L1632.3 1299.0 L1631.3 1296.4 L1630.3 1293.8 L1629.3 1291.3 L1628.2 1288.7 L1627.1 1286.1 L1626.1 1283.6 L1625.0 1281.0 L1623.9 1278.4 L1622.7 1275.9 L1621.6 1273.3 L1620.5 1270.8 L1619.4 1268.2 L1618.3 1265.7 L1617.3 1263.1 L1616.2 1260.5 L1615.2 1258.0 L1614.1 1255.4 L1613.2 1252.8 L1612.2 1250.2 L1611.3 1247.6 L1610.4 1245.0 L1609.6 1242.4 L1608.8 1239.8 L1608.0 1237.1 L1607.3 1234.5 L1606.6 1231.8 L1606.0 1229.2 L1605.4 1226.5 L1604.8 1223.8 L1604.2 1221.1 L1603.7 1218.4 L1603.1 1215.7 L1602.6 1213.0 L1602.1 1210.2 L1601.6 1207.5 L1601.1 1204.7 L1600.6 1202.0 L1600.1 1199.2 L1599.5 1196.4 L1599.0 1193.6 L1598.5 1190.8 L1598.1 1188.0 L1597.6 1185.2 L1597.2 1182.5 L1596.8 1179.7 L1596.4 1176.9 L1596.1 1174.1 L1595.8 1171.3 L1595.6 1168.5 L1595.5 1165.7 L1595.4 1162.9 L1595.5 1160.2 L1595.6 1157.4 L1595.7 1154.7 L1596.0 1152.0 L1596.4 1149.3 L1596.9 1146.6 L1597.5 1143.9 L1598.2 1141.3 L1599.1 1138.6 L1600.0 1136.0 L1601.1 1133.5 L1602.3 1131.0 L1603.6 1128.5 L1605.0 1126.1 L1606.5 1123.8 L1608.1 1121.6 L1609.8 1119.4 L1611.6 1117.3 L1613.5 1115.3 L1615.6 1113.4 L1617.7 1111.7 L1619.8 1110.0 L1622.1 1108.4 L1624.4 1106.9 L1626.8 1105.5 L1629.3 1104.2 L1631.8 1102.9 L1634.4 1101.8 L1637.0 1100.7 L1639.7 1099.7 L1642.3 1098.8 L1645.0 1097.9 L1647.7 1097.1 L1650.5 1096.4 L1653.2 1095.8 L1655.9 1095.2 L1658.7 1094.6 L1661.4 1094.1 L1664.2 1093.7 L1666.9 1093.3 L1669.6 1093.0 L1672.4 1092.7 L1675.1 1092.5 L1677.9 1092.3 L1680.6 1092.1 L1683.4 1092.0 L1686.1 1091.9 L1688.9 1091.9 L1691.6 1091.9 L1694.4 1091.9 L1697.2 1091.9 L1699.9 1092.0 L1702.7 1092.1 L1705.4 1092.2 L1708.2 1092.3 L1710.9 1092.4 L1713.7 1092.6 L1716.5 1092.7 L1719.2 1092.9 L1722.0 1093.1 L1724.8 1093.3 L1727.5 1093.4 L1730.3 1093.6 L1733.1 1093.8 L1735.8 1094.0 L1738.6 1094.2 L1741.3 1094.4 L1744.1 1094.5 L1746.9 1094.7 L1749.6 1094.9 L1752.4 1095.1 L1755.2 1095.2 L1758.0 1095.4 L1760.7 1095.6 L1763.5 1095.8 L1766.3 1095.9 L1769.0 1096.1 L1771.8 1096.3 L1774.6 1096.4 L1777.3 1096.6 L1780.1 1096.7 L1782.9 1096.9 L1785.7 1097.0 L1788.4 1097.1 L1791.2 1097.2 L1794.0 1097.4 L1796.7 1097.5 L1799.5 1097.6 L1802.3 1097.7 L1805.1 1097.8 L1807.8 1097.9 L1810.6 1097.9 L1813.4 1098.0 L1816.2 1098.1 L1818.9 1098.1 L1821.7 1098.2 L1824.5 1098.2 L1827.3 1098.2 L1830.0 1098.2 L1832.8 1098.2 L1835.6 1098.2 L1838.4 1098.2 L1841.1 1098.2 L1843.9 1098.1 L1846.7 1098.1 L1849.5 1098.0 L1852.2 1098.0 L1855.0 1097.9 L1857.8 1097.8 L1860.6 1097.7 L1863.3 1097.6 L1866.1 1097.5 L1868.9 1097.4 L1871.7 1097.3 L1874.4 1097.1 L1877.2 1097.0 L1880.0 1096.9 L1882.8 1096.7 L1885.5 1096.6 L1888.3 1096.4 L1891.1 1096.3 L1893.9 1096.1 L1896.6 1096.0 L1899.4 1095.8 L1902.2 1095.7 L1904.9 1095.5 L1907.7 1095.3 L1910.5 1095.2 L1913.3 1095.0 L1916.0 1094.9 L1918.8 1094.7 L1921.6 1094.5 L1924.3 1094.4 L1927.1 1094.2 L1929.9 1094.1 L1932.6 1093.9 L1935.4 1093.8 L1938.2 1093.6 L1940.9 1093.5 L1943.7 1093.4 L1946.5 1093.2 L1949.2 1093.1 L1952.0 1093.0 L1954.8 1092.9 L1957.5 1092.8 L1960.3 1092.7 L1963.0 1092.6 L1965.8 1092.5 L1968.5 1092.4 L1971.3 1092.3 L1974.1 1092.3 L1976.8 1092.2 L1979.6 1092.2 L1982.3 1092.2 L1985.1 1092.2 L1987.8 1092.2 L1990.6 1092.3 L1993.3 1092.4 L1996.1 1092.6 L1998.8 1092.8 L2001.6 1093.0 L2004.3 1093.3 L2007.0 1093.6 L2009.8 1094.0 L2012.5 1094.5 L2015.2 1095.0 L2018.0 1095.6 L2020.7 1096.2 L2023.4 1096.9 L2026.1 1097.7 L2028.8 1098.6 L2031.5 1099.6 L2034.1 1100.6 L2036.7 1101.7 L2039.3 1102.9 L2041.8 1104.2 L2044.3 1105.5 L2046.7 1107.0 L2049.1 1108.5 L2051.3 1110.1 L2053.5 1111.8 L2055.6 1113.5 L2057.7 1115.4 L2059.6 1117.3 L2061.5 1119.4 L2063.2 1121.5 L2064.8 1123.7 L2066.3 1126.0 L2067.7 1128.4 L2069.0 1130.9 L2070.2 1133.4 L2071.2 1136.0 L2072.1 1138.6 L2072.9 1141.3 L2073.6 1144.0 L2074.2 1146.7 L2074.7 1149.4 L2075.1 1152.1 L2075.3 1154.8 L2075.5 1157.6 L2075.6 1160.3 L2075.6 1163.1 L2075.6 1165.8 L2075.5 1168.6 L2075.3 1171.4 L2075.0 1174.1 L2074.7 1176.9 L2074.4 1179.7 L2074.0 1182.5 L2073.6 1185.2 L2073.2 1188.0 L2072.7 1190.8 L2072.2 1193.6 L2071.7 1196.4 L2071.2 1199.1 L2070.7 1201.9 L2070.2 1204.6 L2069.7 1207.4 L2069.2 1210.1 L2068.7 1212.9 L2068.2 1215.6 L2067.6 1218.3 L2067.1 1221.0 L2066.5 1223.7 L2065.9 1226.4 L2065.3 1229.1 L2064.6 1231.8 L2063.9 1234.5 L2063.2 1237.1 L2062.4 1239.8 L2061.6 1242.4 L2060.8 1245.0 L2059.9 1247.6 L2059.0 1250.2 L2058.0 1252.8 L2057.0 1255.4 L2056.0 1258.0 L2055.0 1260.6 L2053.9 1263.1 L2052.8 1265.7 L2051.8 1268.3 L2050.7 1270.8 L2049.6 1273.4 L2048.4 1275.9 L2047.3 1278.5 L2046.2 1281.0 L2045.1 1283.6 L2044.1 1286.1 L2043.0 1288.7 L2041.9 1291.3 L2040.9 1293.8 L2039.9 1296.4 L2039.0 1299.0 L2038.0 1301.6 L2037.1 1304.2 L2036.3 1306.8 L2035.4 1309.5 L2034.6 1312.1 L2033.8 1314.7 L2033.0 1317.4 L2032.3 1320.0 L2031.5 1322.7 L2030.8 1325.3 L2030.1 1328.0 L2029.3 1330.6 L2028.6 1333.3 L2027.8 1335.9 L2027.1 1338.6 L2026.3 1341.2 L2025.5 1343.9 L2024.7 1346.5 L2023.9 1349.2 L2023.0 1351.8 L2022.1 1354.4 L2021.2 1357.0 L2020.3 1359.6 L2019.3 1362.2 L2018.2 1364.8 L2017.1 1367.4 L2016.0 1370.0 L2014.8 1372.5 L2013.5 1375.0 L2012.2 1377.6 L2010.8 1380.1 L2009.5 1382.6 L2008.6 1385.2 L2008.3 1388.0 L2008.7 1390.8 L2009.8 1393.4 L2011.3 1395.0 L2012.8 1395.2 L2014.2 1393.7 L2015.5 1390.8 L2016.8 1387.4 L2018.1 1384.1 L2019.6 1381.1 L2021.1 1378.3 L2022.7 1375.8 L2024.3 1373.5 L2026.0 1371.3 L2027.7 1369.3 L2029.5 1367.4 L2031.2 1365.5 L2033.0 1363.7 L2034.8 1361.9 L2036.6 1360.1 L2038.4 1358.2 L2040.1 1356.3 L2041.9 1354.3 L2043.6 1352.3 L2045.3 1350.2 L2047.0 1348.0 L2048.6 1345.8 L2050.3 1343.6 L2051.9 1341.3 L2053.5 1339.0 L2055.1 1336.7 L2056.6 1334.4 L2058.1 1332.0 L2059.6 1329.6 L2061.1 1327.2 L2062.5 1324.8 L2064.0 1322.4 L2065.4 1320.0 L2066.7 1317.6 L2068.1 1315.1 L2069.4 1312.7 L2070.7 1310.2 L2072.0 1307.8 L2073.3 1305.3 L2074.5 1302.8 L2075.7 1300.3 L2076.9 1297.8 L2078.1 1295.3 L2079.2 1292.8 L2080.3 1290.3 L2081.4 1287.7 L2082.5 1285.2 L2083.6 1282.6 L2084.6 1280.1 L2085.7 1277.5 L2086.7 1274.9 L2087.7 1272.4 L2088.6 1269.8 L2089.6 1267.2 L2090.5 1264.6 L2091.4 1262.0 L2092.3 1259.3 L2093.2 1256.7 L2094.1 1254.1 L2094.9 1251.4 L2095.7 1248.8 L2096.5 1246.1 L2097.3 1243.5 L2098.1 1240.8 L2098.9 1238.1 L2099.6 1235.5 L2100.4 1232.8 L2101.1 1230.1 L2101.8 1227.4 L2102.4 1224.7 L2103.1 1222.0 L2103.8 1219.3 L2104.4 1216.5 L2105.0 1213.8 L2105.6 1211.1 L2106.2 1208.4 L2106.7 1205.6 L2107.3 1202.9 L2107.8 1200.1 L2108.3 1197.4 L2108.7 1194.7 L2109.2 1191.9 L2109.6 1189.1 L2110.1 1186.4 L2110.5 1183.6 L2110.8 1180.9 L2111.2 1178.1 L2111.5 1175.3 L2111.9 1172.6 L2112.2 1169.8 L2112.4 1167.0 L2112.7 1164.2 L2112.9 1161.5 L2113.1 1158.7 L2113.3 1155.9 L2113.5 1153.2 L2113.6 1150.4 L2113.7 1147.6 L2113.8 1144.8 L2113.9 1142.1 L2114.0 1139.3 L2114.0 1136.5 L2114.0 1133.7 L2114.0 1131.0 L2113.9 1128.2 L2113.8 1125.4 L2113.8 1122.7 L2113.6 1119.9 L2113.5 1117.2 L2113.3 1114.4 L2113.1 1111.7 L2112.9 1108.9 L2112.6 1106.2 L2112.4 1103.4 L2112.1 1100.7 L2111.7 1097.9 L2111.4 1095.2 L2111.0 1092.5 L2110.6 1089.8 L2110.2 1087.0 L2109.7 1084.3 L2109.2 1081.6 L2108.7 1078.9 L2108.1 1076.2 L2107.6 1073.5 L2107.0 1070.9 L2106.3 1068.2 L2105.7 1065.5 L2105.0 1062.8 L2104.2 1060.2 L2103.5 1057.5 L2102.7 1054.9 L2101.9 1052.2 L2101.1 1049.6 L2100.2 1047.0 L2099.3 1044.4 L2098.4 1041.8 L2097.4 1039.2 L2096.5 1036.6 L2095.5 1034.0 L2094.4 1031.4 L2093.4 1028.9 L2092.3 1026.3 L2091.2 1023.8 L2090.0 1021.3 L2088.9 1018.7 L2087.7 1016.2 L2086.5 1013.7 L2085.2 1011.3 L2084.0 1008.8 L2082.7 1006.3 L2081.4 1003.9 L2080.0 1001.5 L2078.6 999.0 L2077.2 996.6 L2075.8 994.2 L2074.4 991.8 L2072.9 989.5 L2071.4 987.1 L2069.9 984.8 L2068.4 982.5 L2066.8 980.1 L2065.3 977.8 L2063.7 975.6 L2062.0 973.3 L2060.4 971.1 L2058.7 968.8 L2057.0 966.6 L2055.3 964.4 L2053.6 962.2 L2051.8 960.1 L2050.0 957.9 L2048.2 955.8 L2046.4 953.7 L2044.6 951.6 L2042.7 949.5 L2040.8 947.4 L2038.9 945.4 L2037.0 943.4 L2035.0 941.4 L2033.1 939.4 L2031.1 937.4 L2029.1 935.5 L2027.1 933.6 L2025.0 931.7 L2023.0 929.8 L2020.9 927.9 L2018.8 926.1 L2016.7 924.3 L2014.6 922.5 L2012.4 920.7 L2010.3 918.9 L2008.1 917.2 L2005.9 915.5 L2003.7 913.8 L2001.4 912.2 L1999.2 910.5 L1996.9 908.9 L1994.6 907.3 L1992.3 905.8 L1990.0 904.2 L1987.7 902.7 L1985.4 901.2 L1983.0 899.8 L1980.6 898.3 L1978.2 896.9 L1975.8 895.5 L1973.4 894.1 L1971.0 892.8 L1968.6 891.4 L1966.1 890.1 L1963.6 888.9 L1961.2 887.6 L1958.7 886.4 L1956.2 885.2 L1953.7 884.0 L1951.1 882.8 L1948.6 881.7 L1946.1 880.6 L1943.5 879.5 L1940.9 878.5 L1938.4 877.5 L1935.8 876.5 L1933.2 875.5 L1930.6 874.5 L1928.0 873.6 L1925.3 872.7 L1922.7 871.8 L1920.1 871.0 L1917.4 870.1 L1914.8 869.3 L1912.1 868.6 L1909.4 867.8 L1906.8 867.1 L1904.1 866.4 L1901.4 865.7 L1898.7 865.1 L1896.0 864.5 L1893.3 863.9 L1890.6 863.3 L1887.9 862.8 L1885.1 862.3 L1882.4 861.8 L1879.7 861.4 L1876.9 860.9 L1874.2 860.5 L1871.5 860.2 L1868.7 859.8 L1866.0 859.5 L1863.2 859.2 L1860.5 858.9 L1857.7 858.7 L1854.9 858.5 L1852.2 858.3 L1849.4 858.2 L1846.7 858.0 L1843.9 857.9 L1841.1 857.9 L1838.4 857.8Z" stroke="#f00" stroke-width="16.0" fill="none" stroke-linejoin="round" stroke-linecap="round"/>
<path d="M1835.5 854.8 L1833.1 854.8 L1830.7 854.9 L1828.3 854.9 L1825.9 855.0 L1823.5 855.1 L1821.1 855.3 L1818.7 855.4 L1816.3 855.6 L1813.9 855.8 L1811.5 856.1 L1809.1 856.3 L1806.7 856.6 L1804.4 856.9 L1802.0 857.2 L1799.6 857.6 L1797.2 858.0 L1794.8 858.4 L1792.5 858.8 L1790.1 859.2 L1787.8 859.7 L1785.4 860.2 L1783.0 860.7 L1780.7 861.2 L1778.3 861.8 L1776.0 862.4 L1773.7 863.0 L1771.3 863.6 L1769.0 864.3 L1766.7 864.9 L1764.4 865.6 L1762.1 866.3 L1759.8 867.1 L1757.5 867.8 L1755.2 868.6 L1752.9 869.4 L1750.7 870.2 L1748.4 871.1 L1746.1 871.9 L1743.9 872.8 L1741.6 873.7 L1739.4 874.6 L1737.2 875.6 L1735.0 876.5 L1732.8 877.5 L1730.6 878.5 L1728.4 879.6 L1726.2 880.6 L1724.0 881.7 L1721.8 882.8 L1719.7 883.9 L1717.5 885.0 L1715.4 886.1 L1713.3 887.3 L1711.2 888.5 L1709.1 889.7 L1707.0 890.9 L1704.9 892.1 L1702.8 893.4 L1700.8 894.7 L1698.7 896.0 L1696.7 897.3 L1694.7 898.6 L1692.7 900.0 L1690.7 901.3 L1688.7 902.7 L1686.7 904.1 L1684.8 905.6 L1682.8 907.0 L1680.9 908.5 L1679.0 909.9 L1677.1 911.4 L1675.2 913.0 L1673.3 914.5 L1671.4 916.0 L1669.6 917.6 L1667.8 919.2 L1665.9 920.8 L1664.1 922.4 L1662.3 924.0 L1660.6 925.7 L1658.8 927.3 L1657.1 929.0 L1655.4 930.7 L1653.6 932.4 L1652.0 934.2 L1650.3 935.9 L1648.6 937.7 L1647.0 939.4 L1645.4 941.2 L1643.8 943.0 L1642.2 944.9 L1640.6 946.7 L1639.0 948.6 L1637.5 950.4 L1636.0 952.3 L1634.5 954.2 L1633.0 956.1 L1631.5 958.0 L1630.1 960.0 L1628.6 961.9 L1627.2 963.9 L1625.8 965.9 L1624.5 967.8 L1623.1 969.8 L1621.8 971.9 L1620.4 973.9 L1619.1 975.9 L1617.8 978.0 L1616.6 980.0 L1615.3 982.1 L1614.1 984.2 L1612.9 986.3 L1611.7 988.4 L1610.5 990.5 L1609.3 992.6 L1608.2 994.7 L1607.1 996.9 L1606.0 999.0 L1604.9 1001.2 L1603.8 1003.4 L1602.8 1005.6 L1601.7 1007.8 L1600.7 1010.0 L1599.7 1012.2 L1598.8 1014.4 L1597.8 1016.6 L1596.9 1018.9 L1596.0 1021.1 L1595.1 1023.3 L1594.2 1025.6 L1593.3 1027.9 L1592.5 1030.1 L1591.7 1032.4 L1590.9 1034.7 L1590.1 1037.0 L1589.4 1039.3 L1588.6 1041.6 L1587.9 1043.9 L1587.2 1046.2 L1586.6 1048.6 L1585.9 1050.9 L1585.3 1053.2 L1584.7 1055.6 L1584.1 1057.9 L1583.5 1060.2 L1582.9 1062.6 L1582.4 1064.9 L1581.9 1067.3 L1581.4 1069.7 L1580.9 1072.0 L1580.5 1074.4 L1580.1 1076.8 L1579.7 1079.2 L1579.3 1081.5 L1578.9 1083.9 L1578.6 1086.3 L1578.2 1088.7 L1577.9 1091.1 L1577.7 1093.5 L1577.4 1095.9 L1577.2 1098.3 L1577.0 1100.7 L1576.8 1103.1 L1576.6 1105.5 L1576.4 1107.9 L1576.3 1110.3 L1576.2 1112.7 L1576.1 1115.1 L1576.0 1117.5 L1576.0 1119.9 L1575.9 1122.3 L1575.9 1124.7 L1575.9 1127.1 L1576.0 1129.5 L1576.0 1131.9 L1576.1 1134.3 L1576.1 1136.7 L1576.2 1139.1 L1576.4 1141.5 L1576.5 1144.0 L1576.6 1146.4 L1576.8 1148.8 L1577.0 1151.2 L1577.2 1153.6 L1577.4 1156.0 L1577.7 1158.4 L1577.9 1160.8 L1578.2 1163.2 L1578.5 1165.6 L1578.8 1168.0 L1579.1 1170.4 L1579.5 1172.8 L1579.8 1175.2 L1580.2 1177.6 L1580.6 1179.9 L1581.0 1182.3 L1581.4 1184.7 L1581.8 1187.1 L1582.3 1189.5 L1582.7 1191.9 L1583.2 1194.2 L1583.7 1196.6 L1584.2 1199.0 L1584.7 1201.3 L1585.2 1203.7 L1585.8 1206.1 L1586.3 1208.4 L1586.9 1210.8 L1587.5 1213.1 L1588.1 1215.5 L1588.7 1217.8 L1589.3 1220.2 L1590.0 1222.5 L1590.6 1224.8 L1591.3 1227.2 L1592.0 1229.5 L1592.6 1231.8 L1593.3 1234.1 L1594.0 1236.4 L1594.8 1238.7 L1595.5 1241.0 L1596.2 1243.3 L1597.0 1245.6 L1597.8 1247.9 L1598.5 1250.2 L1599.3 1252.5 L1600.1 1254.7 L1600.9 1257.0 L1601.7 1259.3 L1602.6 1261.5 L1603.4 1263.8 L1604.3 1266.0 L1605.2 1268.2 L1606.1 1270.5 L1607.0 1272.7 L1607.9 1274.9 L1608.8 1277.1 L1609.8 1279.3 L1610.7 1281.5 L1611.7 1283.7 L1612.7 1285.9 L1613.8 1288.1 L1614.8 1290.2 L1615.9 1292.4 L1617.0 1294.5 L1618.1 1296.7 L1619.2 1298.8 L1620.4 1300.9 L1621.6 1303.0 L1622.8 1305.1 L1624.0 1307.2 L1625.3 1309.3 L1626.5 1311.4 L1627.8 1313.4 L1629.2 1315.5 L1630.5 1317.5 L1631.9 1319.6 L1633.3 1321.6 L1634.8 1323.6 L1636.2 1325.6 L1637.8 1327.5 L1639.4 1329.5 L1641.0 1331.3 L1642.8 1333.1 L1644.6 1334.8 L1646.6 1336.5 L1648.7 1338.0 L1650.9 1339.4 L1653.2 1340.6 L1655.4 1341.5 L1657.5 1342.0 L1659.4 1342.1 L1661.0 1341.7 L1662.3 1340.7 L1663.3 1339.1 L1663.9 1337.2 L1664.3 1334.9 L1664.4 1332.5 L1664.3 1330.0 L1664.0 1327.5 L1663.6 1325.1 L1663.1 1322.6 L1662.4 1320.1 L1661.7 1317.7 L1660.9 1315.3 L1660.1 1312.9 L1659.2 1310.4 L1658.4 1308.0 L1657.6 1305.7 L1656.8 1303.3 L1656.1 1300.9 L1655.5 1298.5 L1655.0 1296.2 L1654.5 1293.8 L1654.2 1291.5 L1653.8 1289.1 L1653.6 1286.8 L1653.3 1284.4 L1653.0 1282.1 L1652.7 1279.8 L1652.4 1277.5 L1652.1 1275.1 L1651.6 1272.8 L1651.1 1270.5 L1650.5 1268.2 L1649.9 1265.9 L1649.2 1263.7 L1648.4 1261.4 L1647.6 1259.1 L1646.7 1256.8 L1645.8 1254.5 L1644.8 1252.3 L1643.9 1250.0 L1642.9 1247.7 L1641.8 1245.4 L1640.8 1243.2 L1639.8 1240.9 L1638.8 1238.6 L1637.8 1236.4 L1636.7 1234.1 L1635.8 1231.8 L1634.8 1229.5 L1633.9 1227.2 L1633.0 1225.0 L1632.2 1222.7 L1631.4 1220.4 L1630.6 1218.1 L1630.0 1215.8 L1629.4 1213.5 L1628.9 1211.2 L1628.4 1208.9 L1628.1 1206.6 L1627.8 1204.3 L1627.6 1201.9 L1627.5 1199.6 L1627.4 1197.3 L1627.4 1194.9 L1627.5 1192.6 L1627.7 1190.2 L1627.9 1187.9 L1628.2 1185.5 L1628.5 1183.2 L1628.9 1180.8 L1629.3 1178.4 L1629.7 1176.1 L1630.2 1173.7 L1630.8 1171.3 L1631.4 1169.0 L1632.0 1166.6 L1632.6 1164.2 L1633.3 1161.8 L1634.0 1159.5 L1634.7 1157.1 L1635.5 1154.7 L1636.3 1152.3 L1637.1 1150.0 L1637.9 1147.6 L1638.8 1145.3 L1639.7 1143.0 L1640.6 1140.7 L1641.6 1138.4 L1642.6 1136.2 L1643.7 1134.0 L1644.8 1131.8 L1646.0 1129.7 L1647.2 1127.6 L1648.5 1125.5 L1649.8 1123.5 L1651.2 1121.6 L1652.6 1119.7 L1654.2 1117.8 L1655.7 1116.1 L1657.3 1114.3 L1659.0 1112.7 L1660.8 1111.0 L1662.6 1109.5 L1664.4 1108.0 L1666.3 1106.5 L1668.2 1105.2 L1670.2 1103.8 L1672.2 1102.6 L1674.3 1101.4 L1676.4 1100.2 L1678.5 1099.1 L1680.7 1098.1 L1682.9 1097.1 L1685.1 1096.2 L1687.4 1095.3 L1689.7 1094.5 L1692.0 1093.7 L1694.3 1093.0 L1696.6 1092.4 L1699.0 1091.8 L1701.3 1091.3 L1703.7 1090.8 L1706.1 1090.4 L1708.5 1090.1 L1710.9 1089.8 L1713.3 1089.5 L1715.7 1089.4 L1718.1 1089.2 L1720.5 1089.2 L1723.0 1089.2 L1725.3 1089.2 L1727.7 1089.3 L1730.1 1089.4 L1732.5 1089.6 L1734.9 1089.8 L1737.3 1090.1 L1739.7 1090.4 L1742.1 1090.7 L1744.4 1091.1 L1746.8 1091.5 L1749.2 1091.9 L1751.6 1092.3 L1753.9 1092.7 L1756.3 1093.2 L1758.7 1093.7 L1761.1 1094.2 L1763.5 1094.6 L1765.8 1095.1 L1768.2 1095.6 L1770.6 1096.1 L1773.0 1096.6 L1775.4 1097.1 L1777.8 1097.5 L1780.2 1098.0 L1782.6 1098.4 L1785.0 1098.8 L1787.4 1099.2 L1789.8 1099.6 L1792.2 1099.9 L1794.6 1100.2 L1797.1 1100.5 L1799.5 1100.7 L1801.9 1100.9 L1804.3 1101.1 L1806.8 1101.3 L1809.2 1101.5 L1811.6 1101.6 L1814.1 1101.7 L1816.5 1101.8 L1818.9 1101.9 L1821.4 1101.9 L1823.8 1102.0 L1826.2 1102.0 L1828.6 1102.0 L1831.0 1102.0 L1833.5 1102.0 L1835.9 1101.9 L1838.3 1101.9 L1840.7 1101.8 L1843.0 1101.7 L1845.4 1101.7 L1847.8 1101.6 L1850.2 1101.4 L1852.6 1101.3 L1854.9 1101.2 L1857.3 1101.0 L1859.7 1100.9 L1862.0 1100.7 L1864.4 1100.5 L1866.7 1100.3 L1869.1 1100.1 L1871.5 1099.9 L1873.8 1099.7 L1876.2 1099.4 L1878.6 1099.2 L1880.9 1098.9 L1883.3 1098.7 L1885.7 1098.4 L1888.0 1098.1 L1890.4 1097.8 L1892.8 1097.4 L1895.2 1097.1 L1897.6 1096.8 L1900.0 1096.4 L1902.4 1096.0 L1904.8 1095.6 L1907.2 1095.2 L1909.7 1094.8 L1912.1 1094.4 L1914.6 1094.0 L1917.0 1093.6 L1919.5 1093.2 L1921.9 1092.7 L1924.4 1092.3 L1926.8 1091.9 L1929.3 1091.6 L1931.8 1091.2 L1934.2 1090.8 L1936.7 1090.5 L1939.1 1090.2 L1941.6 1090.0 L1944.0 1089.8 L1946.5 1089.6 L1948.9 1089.4 L1951.3 1089.3 L1953.7 1089.3 L1956.1 1089.3 L1958.5 1089.4 L1960.9 1089.5 L1963.3 1089.7 L1965.6 1089.9 L1968.0 1090.2 L1970.3 1090.6 L1972.6 1091.1 L1974.9 1091.7 L1977.1 1092.3 L1979.4 1093.0 L1981.6 1093.8 L1983.8 1094.6 L1986.0 1095.5 L1988.1 1096.5 L1990.2 1097.6 L1992.3 1098.7 L1994.4 1099.9 L1996.4 1101.1 L1998.5 1102.4 L2000.4 1103.8 L2002.4 1105.2 L2004.3 1106.7 L2006.1 1108.2 L2008.0 1109.8 L2009.8 1111.4 L2011.5 1113.1 L2013.3 1114.8 L2014.9 1116.6 L2016.6 1118.4 L2018.2 1120.3 L2019.7 1122.2 L2021.2 1124.1 L2022.7 1126.1 L2024.1 1128.1 L2025.4 1130.1 L2026.7 1132.2 L2028.0 1134.3 L2029.2 1136.4 L2030.4 1138.5 L2031.5 1140.7 L2032.5 1142.9 L2033.5 1145.1 L2034.5 1147.4 L2035.4 1149.7 L2036.3 1152.0 L2037.1 1154.3 L2037.8 1156.6 L2038.5 1158.9 L2039.2 1161.3 L2039.8 1163.6 L2040.4 1166.0 L2040.9 1168.4 L2041.4 1170.8 L2041.8 1173.2 L2042.1 1175.6 L2042.4 1178.0 L2042.7 1180.4 L2042.9 1182.9 L2043.1 1185.3 L2043.2 1187.7 L2043.3 1190.1 L2043.3 1192.5 L2043.3 1194.9 L2043.2 1197.3 L2043.1 1199.7 L2042.9 1202.1 L2042.7 1204.4 L2042.4 1206.8 L2042.1 1209.1 L2041.7 1211.5 L2041.3 1213.8 L2040.8 1216.1 L2040.3 1218.4 L2039.8 1220.7 L2039.2 1223.0 L2038.5 1225.3 L2037.8 1227.6 L2037.1 1229.9 L2036.3 1232.2 L2035.5 1234.4 L2034.6 1236.7 L2033.7 1238.9 L2032.8 1241.2 L2031.8 1243.4 L2030.8 1245.7 L2029.7 1247.9 L2028.6 1250.1 L2027.4 1252.3 L2026.3 1254.6 L2025.1 1256.8 L2023.9 1259.0 L2022.8 1261.2 L2021.8 1263.5 L2020.8 1265.7 L2020.0 1268.0 L2019.2 1270.3 L2018.6 1272.6 L2018.1 1274.9 L2017.8 1277.2 L2017.5 1279.6 L2017.4 1282.0 L2017.2 1284.3 L2017.1 1286.7 L2017.0 1289.1 L2016.9 1291.5 L2016.7 1293.9 L2016.4 1296.2 L2016.0 1298.6 L2015.4 1301.0 L2014.8 1303.3 L2014.0 1305.7 L2013.2 1308.1 L2012.3 1310.4 L2011.4 1312.8 L2010.5 1315.2 L2009.6 1317.6 L2008.8 1320.0 L2008.1 1322.5 L2007.5 1325.0 L2007.1 1327.5 L2006.9 1330.0 L2006.9 1332.6 L2007.1 1335.1 L2007.5 1337.5 L2008.2 1339.5 L2009.2 1341.0 L2010.4 1342.0 L2012.0 1342.3 L2013.7 1342.1 L2015.7 1341.3 L2017.7 1340.2 L2019.8 1338.9 L2021.9 1337.3 L2024.0 1335.7 L2025.9 1334.1 L2027.9 1332.4 L2029.7 1330.7 L2031.5 1329.0 L2033.2 1327.2 L2034.9 1325.4 L2036.5 1323.5 L2038.1 1321.6 L2039.6 1319.7 L2041.1 1317.8 L2042.5 1315.8 L2043.8 1313.8 L2045.2 1311.8 L2046.5 1309.8 L2047.7 1307.7 L2048.9 1305.6 L2050.1 1303.5 L2051.2 1301.4 L2052.3 1299.2 L2053.4 1297.1 L2054.5 1294.9 L2055.5 1292.7 L2056.5 1290.5 L2057.5 1288.3 L2058.5 1286.1 L2059.4 1283.8 L2060.3 1281.6 L2061.3 1279.4 L2062.2 1277.1 L2063.1 1274.9 L2064.0 1272.6 L2064.9 1270.4 L2065.7 1268.1 L2066.6 1265.8 L2067.5 1263.6 L2068.3 1261.3 L2069.2 1259.1 L2070.0 1256.8 L2070.8 1254.5 L2071.6 1252.2 L2072.4 1250.0 L2073.2 1247.7 L2074.0 1245.4 L2074.8 1243.1 L2075.6 1240.8 L2076.3 1238.5 L2077.1 1236.2 L2077.8 1233.9 L2078.5 1231.6 L2079.2 1229.3 L2079.9 1227.0 L2080.6 1224.7 L2081.3 1222.4 L2081.9 1220.1 L2082.6 1217.7 L2083.2 1215.4 L2083.8 1213.1 L2084.4 1210.8 L2085.0 1208.4 L2085.6 1206.1 L2086.1 1203.7 L2086.6 1201.4 L2087.2 1199.0 L2087.7 1196.7 L2088.2 1194.3 L2088.7 1191.9 L2089.1 1189.6 L2089.6 1187.2 L2090.0 1184.8 L2090.4 1182.4 L2090.8 1180.0 L2091.2 1177.6 L2091.5 1175.3 L2091.9 1172.9 L2092.2 1170.5 L2092.5 1168.1 L2092.8 1165.7 L2093.1 1163.3 L2093.4 1160.9 L2093.6 1158.4 L2093.8 1156.0 L2094.1 1153.6 L2094.2 1151.2 L2094.4 1148.8 L2094.6 1146.4 L2094.7 1144.0 L2094.8 1141.6 L2094.9 1139.1 L2095.0 1136.7 L2095.1 1134.3 L2095.1 1131.9 L2095.2 1129.5 L2095.2 1127.1 L2095.2 1124.7 L2095.2 1122.2 L2095.1 1119.8 L2095.0 1117.4 L2095.0 1115.0 L2094.9 1112.6 L2094.7 1110.2 L2094.6 1107.8 L2094.5 1105.4 L2094.3 1103.0 L2094.1 1100.6 L2093.9 1098.2 L2093.6 1095.8 L2093.4 1093.4 L2093.1 1091.0 L2092.8 1088.6 L2092.5 1086.2 L2092.1 1083.8 L2091.8 1081.4 L2091.4 1079.0 L2091.0 1076.7 L2090.6 1074.3 L2090.2 1071.9 L2089.7 1069.6 L2089.2 1067.2 L2088.7 1064.8 L2088.2 1062.5 L2087.7 1060.1 L2087.1 1057.8 L2086.5 1055.5 L2085.9 1053.1 L2085.3 1050.8 L2084.6 1048.5 L2084.0 1046.2 L2083.3 1043.9 L2082.6 1041.6 L2081.8 1039.3 L2081.1 1037.0 L2080.3 1034.7 L2079.5 1032.4 L2078.7 1030.1 L2077.9 1027.9 L2077.0 1025.6 L2076.1 1023.4 L2075.3 1021.1 L2074.3 1018.9 L2073.4 1016.6 L2072.5 1014.4 L2071.5 1012.2 L2070.5 1010.0 L2069.5 1007.8 L2068.4 1005.6 L2067.4 1003.5 L2066.3 1001.3 L2065.2 999.1 L2064.1 997.0 L2063.0 994.8 L2061.9 992.7 L2060.7 990.6 L2059.5 988.5 L2058.3 986.4 L2057.1 984.3 L2055.9 982.2 L2054.6 980.2 L2053.3 978.1 L2052.0 976.1 L2050.7 974.0 L2049.4 972.0 L2048.1 970.0 L2046.7 968.0 L2045.3 966.0 L2043.9 964.0 L2042.5 962.1 L2041.1 960.1 L2039.6 958.2 L2038.1 956.3 L2036.7 954.4 L2035.2 952.5 L2033.6 950.6 L2032.1 948.7 L2030.6 946.9 L2029.0 945.0 L2027.4 943.2 L2025.8 941.4 L2024.2 939.6 L2022.5 937.8 L2020.9 936.0 L2019.2 934.3 L2017.5 932.5 L2015.8 930.8 L2014.1 929.1 L2012.4 927.4 L2010.7 925.7 L2008.9 924.1 L2007.1 922.4 L2005.3 920.8 L2003.5 919.2 L2001.7 917.6 L1999.9 916.0 L1998.0 914.5 L1996.1 913.0 L1994.3 911.4 L1992.4 909.9 L1990.4 908.4 L1988.5 907.0 L1986.6 905.5 L1984.6 904.1 L1982.7 902.7 L1980.7 901.3 L1978.7 899.9 L1976.7 898.5 L1974.7 897.2 L1972.6 895.9 L1970.6 894.6 L1968.5 893.3 L1966.4 892.0 L1964.4 890.8 L1962.3 889.6 L1960.2 888.4 L1958.1 887.2 L1955.9 886.0 L1953.8 884.9 L1951.6 883.7 L1949.5 882.6 L1947.3 881.5 L1945.1 880.5 L1943.0 879.4 L1940.8 878.4 L1938.5 877.4 L1936.3 876.4 L1934.1 875.4 L1931.9 874.5 L1929.6 873.6 L1927.4 872.7 L1925.1 871.8 L1922.9 870.9 L1920.6 870.1 L1918.3 869.3 L1916.0 868.5 L1913.7 867.7 L1911.4 866.9 L1909.1 866.2 L1906.8 865.5 L1904.5 864.8 L1902.2 864.1 L1899.8 863.5 L1897.5 862.9 L1895.1 862.3 L1892.8 861.7 L1890.5 861.1 L1888.1 860.6 L1885.7 860.1 L1883.4 859.6 L1881.0 859.2 L1878.6 858.7 L1876.3 858.3 L1873.9 857.9 L1871.5 857.5 L1869.1 857.2 L1866.7 856.9 L1864.3 856.6 L1861.9 856.3 L1859.5 856.0 L1857.1 855.8 L1854.7 855.6 L1852.3 855.4 L1849.9 855.3 L1847.5 855.1 L1845.1 855.0 L1842.7 854.9 L1840.3 854.9 L1837.9 854.8Z" stroke="#00f" stroke-width="16.0" fill="none" stroke-linejoin="round" stroke-linecap="round"/>
<text transform="translate(227.68 89.81) scale(0.9781 1)" font-size="89.04">10</text>
<text transform="translate(315.68 57.70) scale(0.9728 1)" font-size="62.19">2</text>
<text transform="translate(227.81 565.71) scale(0.9759 1)" font-size="88.89">10</text>
<text transform="translate(315.36 533.60) scale(0.9248 1)" font-size="62.27">1</text>
<text transform="translate(227.81 1042.81) scale(0.9759 1)" font-size="88.89">10</text>
<text transform="translate(314.97 1010.09) scale(0.9753 1)" font-size="61.04">0</text>
<text transform="translate(179.57 1518.71) scale(0.9794 1)" font-size="89.04">10</text>
<text transform="translate(314.99 1485.70) scale(0.9595 1)" font-size="60.91">1</text>
<text transform="translate(267.91 1492.02) scale(1.3181 1)" font-size="62.00">&#8722;</text>
<text transform="translate(499.11 1598.15) scale(1.0052 1)" font-size="89.85">0.02</text>
<text transform="translate(1122.97 1597.56) scale(0.9919 1)" font-size="89.56">0.04</text>
<text transform="translate(1487.76 1597.76) scale(0.9955 1)" font-size="89.56">0.06</text>
<text transform="translate(1746.65 1597.77) scale(1.0032 1)" font-size="88.97">0.08</text>
<text transform="translate(1969.35 1597.77) scale(1.0035 1)" font-size="88.97">0.1</text>
<text transform="translate(2112.04 1597.77) scale(1.0077 1)" font-size="88.97">0.12</text>
<text transform="translate(1129.52 1718.70) scale(1.1954 1)" font-size="108.79">&#916;</text>
<text transform="translate(1218.27 1720.00) scale(1.1123 1)" font-size="98.70" font-style="italic">x</text>
<text transform="translate(1276.30 1743.21) scale(0.9600 1)" font-size="149.40" style="stroke-width:0">/</text>
<text transform="translate(1326.18 1720.40) scale(1.0979 1)" font-size="106.41" font-style="italic">R</text>
<text transform="translate(1398.17 1732.84) scale(1.0771 1)" font-size="65.83" font-style="italic">o</text>
<text transform="translate(129.46 1140.72) rotate(-90) scale(0.9561 1)" font-size="104.21" font-style="italic">U</text>
<text transform="translate(152.53 1069.99) rotate(-90) scale(1.2114 1)" font-size="81.32">&#8734;</text>
<text transform="translate(132.63 959.07) rotate(-90) scale(0.7944 1)" font-size="117.49">%</text>
<text transform="translate(129.50 841.00) rotate(-90)" font-size="100.0" x="-1.23 52.70 80.00 111.15 139.15 186.40 222.80 271.38 323.95 368.80">difference</text>
</svg></body></html>
